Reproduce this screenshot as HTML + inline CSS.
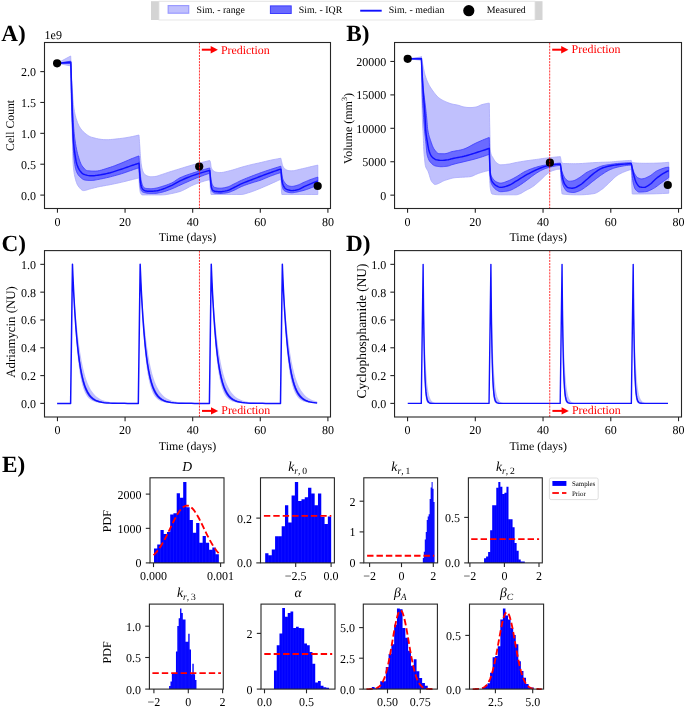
<!DOCTYPE html>
<html><head><meta charset="utf-8"><style>
html,body{margin:0;padding:0;background:#fff;}
body{width:685px;height:707px;overflow:hidden;}
svg{display:block;filter:blur(0.3px);}
text{font-family:"Liberation Serif", serif;}
</style></head><body>
<svg width="685" height="707" viewBox="0 0 685 707" font-family='"Liberation Serif", serif' text-rendering="geometricPrecision">
<rect width="685" height="707" fill="#ffffff"/>
<rect x="151" y="1.2" width="391.5" height="18.8" fill="#d4d4d4"/>
<rect x="159" y="1.2" width="376" height="18.8" fill="#ffffff" stroke="#e0e0e0" stroke-width="0.8"/>
<rect x="168.2" y="5.6" width="20.5" height="7.6" fill="#c0c0fd" stroke="#9a9aff" stroke-width="1.2"/>
<rect x="270.4" y="5.9" width="20.8" height="7.6" fill="#6a6aff" stroke="#3c3cff" stroke-width="1"/>
<line x1="360.2" y1="10.7" x2="381.7" y2="10.7" stroke="#1010ff" stroke-width="1.9"/>
<circle cx="468.8" cy="10.7" r="5.6" fill="#000"/>
<text x="196.4" y="13.2" font-size="9.9" text-anchor="start" fill="#000000" >Sim. - range</text>
<text x="298.7" y="13.2" font-size="9.9" text-anchor="start" fill="#000000" >Sim. - IQR</text>
<text x="388.7" y="13.2" font-size="9.9" text-anchor="start" fill="#000000" >Sim. - median</text>
<text x="486.8" y="13.2" font-size="9.9" text-anchor="start" fill="#000000" >Measured</text>
<text transform="translate(1.2,40.9) scale(1,1)" x="0" y="0" font-size="23.2" font-weight="bold" fill="#000">A)</text>
<text transform="translate(346.2,40.9) scale(1,1)" x="0" y="0" font-size="23.2" font-weight="bold" fill="#000">B)</text>
<text transform="translate(1.5,251.4) scale(1,1)" x="0" y="0" font-size="23.2" font-weight="bold" fill="#000">C)</text>
<text transform="translate(345.9,251.4) scale(1,1)" x="0" y="0" font-size="23.2" font-weight="bold" fill="#000">D)</text>
<text transform="translate(2.1,471.6) scale(1,1)" x="0" y="0" font-size="23.2" font-weight="bold" fill="#000">E)</text>
<path d="M57.1,63.3 L70.7,56 L70.7,56 L70.78,57.97 L70.87,59.94 L70.95,61.94 L71.03,63.95 L71.12,65.97 L71.2,68 L71.28,70.12 L71.37,72.34 L71.45,74.58 L71.53,76.74 L71.62,78.75 L71.7,80.5 L71.85,83.22 L72,85.67 L72.15,87.91 L72.3,90 L72.45,92.01 L72.6,94 L72.77,96.26 L72.93,98.54 L73.1,100.74 L73.27,102.78 L73.43,104.56 L73.6,106 L74.03,108.97 L74.47,111.52 L74.9,113.7 L75.33,115.59 L75.77,117.23 L76.2,118.7 L76.83,120.65 L77.47,122.4 L78.1,123.96 L78.73,125.34 L79.37,126.55 L80,127.6 L80.85,128.84 L81.7,129.94 L82.55,130.92 L83.4,131.8 L84.25,132.59 L85.1,133.3 L86.17,134.14 L87.23,134.93 L88.3,135.66 L89.37,136.29 L90.43,136.81 L91.5,137.2 L93.92,137.87 L96.33,138.47 L98.75,138.98 L101.17,139.36 L103.58,139.61 L106,139.7 L108.25,139.65 L110.5,139.52 L112.75,139.34 L115,139.11 L117.25,138.85 L119.5,138.6 L122.7,138.2 L125.9,137.72 L129.1,137.17 L132.3,136.54 L135.5,135.85 L138.7,135.1 L139,135.1 L139.12,136.71 L139.23,138.34 L139.35,139.98 L139.47,141.64 L139.58,143.31 L139.7,145 L139.83,147.03 L139.97,149.16 L140.1,151.32 L140.23,153.41 L140.37,155.33 L140.5,157 L140.67,158.86 L140.83,160.64 L141,162.28 L141.17,163.75 L141.33,165.01 L141.5,166 L141.83,167.59 L142.17,168.97 L142.5,170.16 L142.83,171.15 L143.17,171.96 L143.5,172.6 L143.92,173.25 L144.33,173.82 L144.75,174.31 L145.17,174.72 L145.58,175.05 L146,175.3 L146.77,175.67 L147.53,176.01 L148.3,176.29 L149.07,176.51 L149.83,176.65 L150.6,176.7 L151.33,176.69 L152.07,176.67 L152.8,176.64 L153.53,176.6 L154.27,176.55 L155,176.5 L156.03,176.36 L157.07,176.11 L158.1,175.78 L159.13,175.41 L160.17,175.04 L161.2,174.7 L162.67,174.24 L164.13,173.76 L165.6,173.26 L167.07,172.77 L168.53,172.28 L170,171.8 L171.67,171.27 L173.33,170.75 L175,170.23 L176.67,169.72 L178.33,169.21 L180,168.7 L182.35,167.98 L184.7,167.26 L187.05,166.55 L189.4,165.84 L191.75,165.16 L194.1,164.5 L196.67,163.8 L199.23,163.13 L201.8,162.47 L204.37,161.82 L206.93,161.2 L209.5,160.6 L209.8,160.6 L209.92,160.69 L210.03,160.9 L210.15,161.21 L210.27,161.6 L210.38,162.03 L210.5,162.5 L210.6,163.07 L210.7,163.87 L210.8,164.8 L210.9,165.71 L211,166.49 L211.1,167 L211.33,167.72 L211.57,168.3 L211.8,168.77 L212.03,169.15 L212.27,169.49 L212.5,169.8 L212.73,170.1 L212.97,170.38 L213.2,170.64 L213.43,170.86 L213.67,171.05 L213.9,171.2 L214.42,171.47 L214.93,171.71 L215.45,171.91 L215.97,172.07 L216.48,172.2 L217,172.3 L217.5,172.38 L218,172.45 L218.5,172.51 L219,172.56 L219.5,172.59 L220,172.6 L221.77,172.5 L223.53,172.24 L225.3,171.87 L227.07,171.42 L228.83,170.95 L230.6,170.5 L232.37,170.04 L234.13,169.52 L235.9,168.96 L237.67,168.38 L239.43,167.82 L241.2,167.3 L242.97,166.81 L244.73,166.32 L246.5,165.84 L248.27,165.38 L250.03,164.93 L251.8,164.5 L253.17,164.18 L254.53,163.88 L255.9,163.59 L257.27,163.3 L258.63,163 L260,162.7 L261.77,162.29 L263.53,161.86 L265.3,161.43 L267.07,161 L268.83,160.59 L270.6,160.2 L272.27,159.85 L273.93,159.52 L275.6,159.2 L277.27,158.89 L278.93,158.59 L280.6,158.3 L280.9,158.3 L281.02,158.86 L281.13,159.41 L281.25,159.95 L281.37,160.48 L281.48,160.99 L281.6,161.5 L281.77,162.24 L281.93,163 L282.1,163.74 L282.27,164.44 L282.43,165.03 L282.6,165.5 L282.95,166.27 L283.3,166.93 L283.65,167.5 L284,167.99 L284.35,168.38 L284.7,168.7 L285.3,169.15 L285.9,169.55 L286.5,169.89 L287.1,170.17 L287.7,170.37 L288.3,170.5 L288.88,170.58 L289.47,170.65 L290.05,170.71 L290.63,170.76 L291.22,170.79 L291.8,170.8 L293.27,170.72 L294.73,170.5 L296.2,170.18 L297.67,169.82 L299.13,169.44 L300.6,169.1 L302.37,168.71 L304.13,168.3 L305.9,167.88 L307.67,167.44 L309.43,167.02 L311.2,166.6 L312.3,166.35 L313.4,166.09 L314.5,165.84 L315.6,165.59 L316.7,165.35 L317.8,165.1 L317.8,194.5 L311.82,194.5 L305.83,194.5 L299.85,194.5 L293.87,194.5 L287.88,194.5 L281.9,194.5 L281.82,194.31 L281.73,193.8 L281.65,193.04 L281.57,192.11 L281.48,191.07 L281.4,190 L281.32,188.79 L281.23,187.31 L281.15,185.58 L281.07,183.65 L280.98,181.54 L280.9,179.3 L280.6,179.3 L278.93,180.08 L277.27,180.86 L275.6,181.63 L273.93,182.4 L272.27,183.15 L270.6,183.9 L268.83,184.69 L267.07,185.48 L265.3,186.26 L263.53,187.03 L261.77,187.78 L260,188.5 L258.05,189.28 L256.1,190.06 L254.15,190.82 L252.2,191.54 L250.25,192.2 L248.3,192.8 L247.12,193.16 L245.93,193.54 L244.75,193.9 L243.57,194.21 L242.38,194.42 L241.2,194.5 L236.18,194.5 L231.17,194.5 L226.15,194.5 L221.13,194.5 L216.12,194.5 L211.1,194.5 L210.97,194.23 L210.83,193.48 L210.7,192.37 L210.57,191.01 L210.43,189.52 L210.3,188 L210.22,186.97 L210.13,185.75 L210.05,184.39 L209.97,182.91 L209.88,181.33 L209.8,179.7 L209.5,179.7 L206.93,180.33 L204.37,181.05 L201.8,181.85 L199.23,182.71 L196.67,183.63 L194.1,184.6 L191.75,185.64 L189.4,186.87 L187.05,188.17 L184.7,189.45 L182.35,190.6 L180,191.5 L178.63,191.91 L177.27,192.28 L175.9,192.62 L174.53,192.93 L173.17,193.22 L171.8,193.5 L170.67,193.74 L169.53,193.98 L168.4,194.21 L167.27,194.41 L166.13,194.58 L165,194.7 L164.37,194.75 L163.73,194.8 L163.1,194.84 L162.47,194.87 L161.83,194.89 L161.2,194.9 L158.02,194.9 L154.83,194.9 L151.65,194.9 L148.47,194.9 L145.28,194.9 L142.1,194.9 L141.83,194.84 L141.57,194.65 L141.3,194.37 L141.03,193.99 L140.77,193.53 L140.5,193 L140.35,192.59 L140.2,192 L140.05,191.23 L139.9,190.3 L139.75,189.22 L139.6,188 L139.5,186.96 L139.4,185.6 L139.3,183.97 L139.2,182.14 L139.1,180.16 L139,178.1 L138.7,178.1 L137.68,178.33 L136.67,178.56 L135.65,178.79 L134.63,179.02 L133.62,179.26 L132.6,179.5 L130.72,179.96 L128.83,180.43 L126.95,180.91 L125.07,181.39 L123.18,181.86 L121.3,182.3 L119.08,182.8 L116.87,183.29 L114.65,183.76 L112.43,184.22 L110.22,184.67 L108,185.1 L106.52,185.37 L105.03,185.63 L103.55,185.88 L102.07,186.14 L100.58,186.41 L99.1,186.7 L97.55,187.04 L96,187.41 L94.45,187.8 L92.9,188.2 L91.35,188.6 L89.8,189 L88.77,189.3 L87.73,189.65 L86.7,190 L85.67,190.3 L84.63,190.52 L83.6,190.6 L82.68,190.43 L81.77,189.94 L80.85,189.19 L79.93,188.23 L79.02,187.12 L78.1,185.9 L77.58,185.08 L77.07,184.02 L76.55,182.73 L76.03,181.2 L75.52,179.42 L75,177.4 L74.68,176.03 L74.37,174.47 L74.05,172.56 L73.73,170.16 L73.42,167.12 L73.1,163.3 L72.97,160.64 L72.83,156.56 L72.7,151.51 L72.57,145.93 L72.43,140.27 L72.3,135 L72.15,129.46 L72,123.89 L71.85,118.22 L71.7,112.4 L71.55,106.35 L71.4,100 L71.28,94.81 L71.17,89.4 L71.05,83.79 L70.93,77.99 L70.82,72.02 L70.7,65.9 L70.7,65.9 L57.1,63.3 Z" fill="#c0c0fd" stroke="#a8a8fb" stroke-width="0.8"/>
<path d="M57.1,63.3 L70.8,61.2 L70.8,61.2 L70.92,64.41 L71.03,67.59 L71.15,70.75 L71.27,73.87 L71.38,76.95 L71.5,80 L71.67,84.34 L71.83,88.68 L72,92.97 L72.17,97.15 L72.33,101.18 L72.5,105 L72.67,108.74 L72.83,112.47 L73,116.07 L73.17,119.44 L73.33,122.45 L73.5,125 L73.75,128.24 L74,131.15 L74.25,133.75 L74.5,136.08 L74.75,138.15 L75,140 L75.52,143.41 L76.03,146.45 L76.55,149.16 L77.07,151.56 L77.58,153.7 L78.1,155.6 L78.75,157.79 L79.4,159.82 L80.05,161.66 L80.7,163.28 L81.35,164.64 L82,165.7 L82.92,166.94 L83.83,168.08 L84.75,169.08 L85.67,169.88 L86.58,170.44 L87.5,170.7 L88.78,170.82 L90.07,170.92 L91.35,171 L92.63,171.06 L93.92,171.09 L95.2,171.1 L97.33,170.96 L99.47,170.57 L101.6,170.02 L103.73,169.36 L105.87,168.66 L108,168 L110.22,167.31 L112.43,166.54 L114.65,165.72 L116.87,164.86 L119.08,163.98 L121.3,163.1 L123.18,162.33 L125.07,161.53 L126.95,160.7 L128.83,159.88 L130.72,159.07 L132.6,158.3 L133.62,157.9 L134.63,157.51 L135.65,157.12 L136.67,156.74 L137.68,156.37 L138.7,156 L139,156 L139.1,157.59 L139.2,159.15 L139.3,160.68 L139.4,162.16 L139.5,163.61 L139.6,165 L139.73,166.85 L139.87,168.71 L140,170.51 L140.13,172.2 L140.27,173.72 L140.4,175 L140.58,176.51 L140.77,177.9 L140.95,179.16 L141.13,180.27 L141.32,181.22 L141.5,182 L141.83,183.22 L142.17,184.32 L142.5,185.28 L142.83,186.08 L143.17,186.69 L143.5,187.1 L143.92,187.45 L144.33,187.74 L144.75,187.99 L145.17,188.18 L145.58,188.32 L146,188.4 L146.77,188.49 L147.53,188.56 L148.3,188.62 L149.07,188.66 L149.83,188.69 L150.6,188.7 L151.33,188.68 L152.07,188.64 L152.8,188.57 L153.53,188.49 L154.27,188.4 L155,188.3 L156.03,188.13 L157.07,187.9 L158.1,187.63 L159.13,187.33 L160.17,187.01 L161.2,186.7 L162.97,186.17 L164.73,185.61 L166.5,185.02 L168.27,184.38 L170.03,183.67 L171.8,182.9 L173.17,182.18 L174.53,181.31 L175.9,180.36 L177.27,179.42 L178.63,178.54 L180,177.8 L182.35,176.75 L184.7,175.81 L187.05,174.95 L189.4,174.14 L191.75,173.37 L194.1,172.6 L196.67,171.76 L199.23,170.95 L201.8,170.17 L204.37,169.41 L206.93,168.69 L209.5,168 L209.8,168 L209.92,169.28 L210.03,170.53 L210.15,171.72 L210.27,172.87 L210.38,173.97 L210.5,175 L210.63,176.15 L210.77,177.29 L210.9,178.39 L211.03,179.39 L211.17,180.28 L211.3,181 L211.5,181.9 L211.7,182.72 L211.9,183.44 L212.1,184.07 L212.3,184.59 L212.5,185 L212.83,185.57 L213.17,186.08 L213.5,186.51 L213.83,186.87 L214.17,187.14 L214.5,187.3 L215.42,187.57 L216.33,187.8 L217.25,187.97 L218.17,188.1 L219.08,188.17 L220,188.2 L221.18,188.16 L222.37,188.04 L223.55,187.86 L224.73,187.63 L225.92,187.37 L227.1,187.1 L228.27,186.75 L229.43,186.28 L230.6,185.71 L231.77,185.1 L232.93,184.48 L234.1,183.9 L235.28,183.32 L236.47,182.73 L237.65,182.13 L238.83,181.53 L240.02,180.95 L241.2,180.4 L242.97,179.63 L244.73,178.89 L246.5,178.17 L248.27,177.48 L250.03,176.79 L251.8,176.1 L253.17,175.57 L254.53,175.04 L255.9,174.52 L257.27,174 L258.63,173.5 L260,173 L261.77,172.37 L263.53,171.76 L265.3,171.15 L267.07,170.56 L268.83,169.98 L270.6,169.4 L272.27,168.86 L273.93,168.34 L275.6,167.81 L277.27,167.3 L278.93,166.8 L280.6,166.3 L280.9,166.3 L281.02,167.33 L281.13,168.33 L281.25,169.3 L281.37,170.24 L281.48,171.14 L281.6,172 L281.77,173.22 L281.93,174.45 L282.1,175.64 L282.27,176.72 L282.43,177.62 L282.6,178.3 L282.95,179.34 L283.3,180.2 L283.65,180.91 L284,181.52 L284.35,182.04 L284.7,182.5 L285.3,183.24 L285.9,183.92 L286.5,184.53 L287.1,185.04 L287.7,185.43 L288.3,185.7 L288.88,185.88 L289.47,186.05 L290.05,186.19 L290.63,186.3 L291.22,186.37 L291.8,186.4 L292.68,186.35 L293.57,186.22 L294.45,186.03 L295.33,185.8 L296.22,185.55 L297.1,185.3 L298.27,184.91 L299.43,184.43 L300.6,183.88 L301.77,183.3 L302.93,182.73 L304.1,182.2 L305.28,181.7 L306.47,181.19 L307.65,180.7 L308.83,180.21 L310.02,179.75 L311.2,179.3 L312.3,178.9 L313.4,178.52 L314.5,178.14 L315.6,177.78 L316.7,177.43 L317.8,177.1 L317.8,185.2 L316.7,185.65 L315.6,186.1 L314.5,186.53 L313.4,186.96 L312.3,187.39 L311.2,187.8 L310.02,188.24 L308.83,188.69 L307.65,189.13 L306.47,189.55 L305.28,189.94 L304.1,190.3 L302.93,190.63 L301.77,190.94 L300.6,191.24 L299.43,191.52 L298.27,191.77 L297.1,192 L296.22,192.17 L295.33,192.35 L294.45,192.52 L293.57,192.66 L292.68,192.76 L291.8,192.8 L290.85,192.76 L289.9,192.65 L288.95,192.48 L288,192.26 L287.05,192 L286.1,191.7 L285.63,191.52 L285.17,191.3 L284.7,191 L284.23,190.63 L283.77,190.17 L283.3,189.6 L283.13,189.32 L282.97,188.92 L282.8,188.42 L282.63,187.85 L282.47,187.2 L282.3,186.5 L282.17,185.86 L282.03,185.12 L281.9,184.25 L281.77,183.28 L281.63,182.2 L281.5,181 L281.4,179.96 L281.3,178.75 L281.2,177.38 L281.1,175.88 L281,174.28 L280.9,172.6 L280.6,172.6 L278.93,173.15 L277.27,173.71 L275.6,174.28 L273.93,174.88 L272.27,175.48 L270.6,176.1 L268.83,176.79 L267.07,177.53 L265.3,178.29 L263.53,179.04 L261.77,179.75 L260,180.4 L258.63,180.85 L257.27,181.27 L255.9,181.67 L254.53,182.06 L253.17,182.47 L251.8,182.9 L250.03,183.48 L248.27,184.07 L246.5,184.67 L244.73,185.31 L242.97,185.98 L241.2,186.7 L240.02,187.25 L238.83,187.86 L237.65,188.51 L236.47,189.15 L235.28,189.76 L234.1,190.3 L232.93,190.8 L231.77,191.3 L230.6,191.78 L229.43,192.21 L228.27,192.56 L227.1,192.8 L225.92,192.98 L224.73,193.14 L223.55,193.29 L222.37,193.4 L221.18,193.47 L220,193.5 L219.17,193.49 L218.33,193.47 L217.5,193.42 L216.67,193.36 L215.83,193.29 L215,193.2 L214.58,193.13 L214.17,193.01 L213.75,192.84 L213.33,192.62 L212.92,192.34 L212.5,192 L212.28,191.74 L212.07,191.33 L211.85,190.79 L211.63,190.13 L211.42,189.37 L211.2,188.5 L211.07,187.82 L210.93,186.94 L210.8,185.88 L210.67,184.69 L210.53,183.38 L210.4,182 L210.3,180.86 L210.2,179.57 L210.1,178.15 L210,176.62 L209.9,174.99 L209.8,173.3 L209.5,173.3 L206.93,174.17 L204.37,175.08 L201.8,176.02 L199.23,176.98 L196.67,177.98 L194.1,179 L191.75,179.97 L189.4,180.98 L187.05,182.02 L184.7,183.08 L182.35,184.14 L180,185.2 L178.63,185.82 L177.27,186.47 L175.9,187.11 L174.53,187.75 L173.17,188.35 L171.8,188.9 L170.03,189.58 L168.27,190.25 L166.5,190.88 L164.73,191.46 L162.97,191.98 L161.2,192.4 L160.17,192.62 L159.13,192.83 L158.1,193.03 L157.07,193.2 L156.03,193.33 L155,193.4 L154.27,193.43 L153.53,193.45 L152.8,193.47 L152.07,193.49 L151.33,193.5 L150.6,193.5 L149.42,193.47 L148.23,193.37 L147.05,193.2 L145.87,192.99 L144.68,192.72 L143.5,192.4 L143.22,192.3 L142.93,192.18 L142.65,192.01 L142.37,191.82 L142.08,191.58 L141.8,191.3 L141.58,191.02 L141.37,190.63 L141.15,190.14 L140.93,189.54 L140.72,188.83 L140.5,188 L140.35,187.25 L140.2,186.23 L140.05,184.97 L139.9,183.49 L139.75,181.83 L139.6,180 L139.5,178.57 L139.4,176.83 L139.3,174.85 L139.2,172.67 L139.1,170.33 L139,167.9 L138.7,167.9 L137.68,168.23 L136.67,168.56 L135.65,168.89 L134.63,169.22 L133.62,169.56 L132.6,169.9 L130.72,170.55 L128.83,171.22 L126.95,171.89 L125.07,172.56 L123.18,173.2 L121.3,173.8 L119.08,174.46 L116.87,175.1 L114.65,175.71 L112.43,176.3 L110.22,176.86 L108,177.4 L106.52,177.75 L105.03,178.09 L103.55,178.42 L102.07,178.73 L100.58,179.02 L99.1,179.3 L97.8,179.55 L96.5,179.82 L95.2,180.07 L93.9,180.29 L92.6,180.44 L91.3,180.5 L90.27,180.49 L89.23,180.45 L88.2,180.39 L87.17,180.31 L86.13,180.22 L85.1,180.1 L84.2,179.89 L83.3,179.49 L82.4,178.93 L81.5,178.24 L80.6,177.45 L79.7,176.6 L79.05,175.92 L78.4,175.1 L77.75,174.11 L77.1,172.9 L76.45,171.41 L75.8,169.6 L75.47,168.35 L75.13,166.65 L74.8,164.5 L74.47,161.94 L74.13,158.96 L73.8,155.6 L73.62,153.27 L73.43,150.28 L73.25,146.8 L73.07,142.99 L72.88,139 L72.7,135 L72.57,132.07 L72.43,129.01 L72.3,125.8 L72.17,122.41 L72.03,118.82 L71.9,115 L71.78,111.53 L71.67,107.93 L71.55,104.08 L71.43,99.89 L71.32,95.23 L71.2,90 L71.13,86.55 L71.07,82.61 L71,78.27 L70.93,73.6 L70.87,68.68 L70.8,63.6 L70.8,63.6 L57.1,63.3 Z" fill="#6a6aff" stroke="#3a3aff" stroke-width="0.8"/>
<path d="M57.1,63.3 L70.8,62.2 L70.8,62.2 L70.87,64.22 L70.93,66.29 L71,68.4 L71.07,70.56 L71.13,72.76 L71.2,75 L71.28,77.92 L71.37,80.99 L71.45,84.11 L71.53,87.24 L71.62,90.29 L71.7,93.2 L71.8,96.53 L71.9,99.77 L72,102.92 L72.1,106.01 L72.2,109.03 L72.3,112 L72.42,115.46 L72.53,118.91 L72.65,122.29 L72.77,125.55 L72.88,128.6 L73,131.4 L73.1,133.66 L73.2,135.87 L73.3,137.97 L73.4,139.9 L73.5,141.6 L73.6,143 L73.77,144.91 L73.93,146.56 L74.1,148.01 L74.27,149.31 L74.43,150.52 L74.6,151.7 L74.93,154.05 L75.27,156.31 L75.6,158.43 L75.93,160.34 L76.27,161.99 L76.6,163.3 L77.12,164.94 L77.63,166.38 L78.15,167.63 L78.67,168.7 L79.18,169.62 L79.7,170.4 L80.35,171.27 L81,172.08 L81.65,172.8 L82.3,173.4 L82.95,173.88 L83.6,174.2 L84.88,174.65 L86.17,175.04 L87.45,175.35 L88.73,175.6 L90.02,175.75 L91.3,175.8 L92.6,175.76 L93.9,175.67 L95.2,175.53 L96.5,175.36 L97.8,175.18 L99.1,175 L100.58,174.79 L102.07,174.54 L103.55,174.26 L105.03,173.96 L106.52,173.64 L108,173.3 L110.22,172.74 L112.43,172.1 L114.65,171.41 L116.87,170.68 L119.08,169.93 L121.3,169.2 L123.18,168.57 L125.07,167.92 L126.95,167.26 L128.83,166.6 L130.72,165.94 L132.6,165.3 L133.62,164.96 L134.63,164.62 L135.65,164.29 L136.67,163.96 L137.68,163.63 L138.7,163.3 L139,163.3 L139.1,164.87 L139.2,166.4 L139.3,167.88 L139.4,169.31 L139.5,170.69 L139.6,172 L139.72,173.48 L139.83,174.93 L139.95,176.32 L140.07,177.65 L140.18,178.88 L140.3,180 L140.42,181.06 L140.53,182.11 L140.65,183.09 L140.77,183.97 L140.88,184.72 L141,185.3 L141.17,185.93 L141.33,186.48 L141.5,186.94 L141.67,187.34 L141.83,187.69 L142,188 L142.25,188.42 L142.5,188.81 L142.75,189.15 L143,189.45 L143.25,189.7 L143.5,189.9 L143.92,190.17 L144.33,190.41 L144.75,190.62 L145.17,190.8 L145.58,190.92 L146,191 L146.77,191.09 L147.53,191.16 L148.3,191.22 L149.07,191.26 L149.83,191.29 L150.6,191.3 L151.33,191.29 L152.07,191.26 L152.8,191.21 L153.53,191.14 L154.27,191.07 L155,191 L156.03,190.86 L157.07,190.67 L158.1,190.44 L159.13,190.18 L160.17,189.89 L161.2,189.6 L162.97,189.05 L164.73,188.41 L166.5,187.69 L168.27,186.92 L170.03,186.12 L171.8,185.3 L173.17,184.62 L174.53,183.88 L175.9,183.11 L177.27,182.33 L178.63,181.58 L180,180.9 L182.35,179.81 L184.7,178.77 L187.05,177.78 L189.4,176.84 L191.75,175.94 L194.1,175.1 L196.67,174.23 L199.23,173.39 L201.8,172.59 L204.37,171.84 L206.93,171.14 L209.5,170.5 L209.8,170.5 L209.9,171.82 L210,173.11 L210.1,174.38 L210.2,175.62 L210.3,176.82 L210.4,178 L210.5,179.19 L210.6,180.41 L210.7,181.6 L210.8,182.71 L210.9,183.7 L211,184.5 L211.13,185.4 L211.27,186.22 L211.4,186.96 L211.53,187.59 L211.67,188.11 L211.8,188.5 L212,188.95 L212.2,189.33 L212.4,189.65 L212.6,189.92 L212.8,190.13 L213,190.3 L213.42,190.58 L213.83,190.83 L214.25,191.04 L214.67,191.2 L215.08,191.32 L215.5,191.4 L216.25,191.49 L217,191.56 L217.75,191.62 L218.5,191.66 L219.25,191.69 L220,191.7 L221.18,191.66 L222.37,191.54 L223.55,191.35 L224.73,191.13 L225.92,190.87 L227.1,190.6 L228.27,190.26 L229.43,189.8 L230.6,189.26 L231.77,188.67 L232.93,188.08 L234.1,187.5 L235.28,186.92 L236.47,186.31 L237.65,185.68 L238.83,185.06 L240.02,184.46 L241.2,183.9 L242.97,183.14 L244.73,182.42 L246.5,181.73 L248.27,181.05 L250.03,180.38 L251.8,179.7 L253.17,179.16 L254.53,178.62 L255.9,178.09 L257.27,177.55 L258.63,177.02 L260,176.5 L261.77,175.83 L263.53,175.17 L265.3,174.52 L267.07,173.88 L268.83,173.24 L270.6,172.6 L272.27,172 L273.93,171.41 L275.6,170.83 L277.27,170.25 L278.93,169.67 L280.6,169.1 L280.9,169.1 L280.98,170.17 L281.07,171.21 L281.15,172.21 L281.23,173.18 L281.32,174.11 L281.4,175 L281.48,175.88 L281.57,176.77 L281.65,177.63 L281.73,178.43 L281.82,179.13 L281.9,179.7 L282.13,181.01 L282.37,182.16 L282.6,183.15 L282.83,184 L283.07,184.71 L283.3,185.3 L283.65,186.05 L284,186.72 L284.35,187.3 L284.7,187.79 L285.05,188.19 L285.4,188.5 L285.88,188.84 L286.37,189.13 L286.85,189.37 L287.33,189.58 L287.82,189.75 L288.3,189.9 L288.88,190.07 L289.47,190.23 L290.05,190.38 L290.63,190.49 L291.22,190.57 L291.8,190.6 L292.68,190.57 L293.57,190.5 L294.45,190.38 L295.33,190.24 L296.22,190.07 L297.1,189.9 L298.27,189.57 L299.43,189.09 L300.6,188.52 L301.77,187.89 L302.93,187.27 L304.1,186.7 L305.28,186.17 L306.47,185.64 L307.65,185.12 L308.83,184.6 L310.02,184.1 L311.2,183.6 L312.3,183.15 L313.4,182.7 L314.5,182.27 L315.6,181.84 L316.7,181.41 L317.8,181" fill="none" stroke="#1010ff" stroke-width="1.45" stroke-linejoin="round"/>
<circle cx="57.1" cy="63.3" r="4.1" fill="#000"/>
<circle cx="199.2" cy="166.6" r="4.1" fill="#000"/>
<circle cx="317.7" cy="186.0" r="4.1" fill="#000"/>
<path d="M407.7,58.8 L421.3,57 L421.3,56.4 L421.42,56.97 L421.53,57.55 L421.65,58.14 L421.77,58.75 L421.88,59.37 L422,60 L422.13,60.76 L422.27,61.55 L422.4,62.36 L422.53,63.17 L422.67,63.96 L422.8,64.7 L423,65.75 L423.2,66.76 L423.4,67.74 L423.6,68.68 L423.8,69.6 L424,70.5 L424.22,71.46 L424.43,72.42 L424.65,73.35 L424.87,74.23 L425.08,75.06 L425.3,75.8 L425.87,77.54 L426.43,79.13 L427,80.59 L427.57,81.92 L428.13,83.15 L428.7,84.3 L429.42,85.64 L430.13,86.88 L430.85,88.03 L431.57,89.1 L432.28,90.12 L433,91.1 L433.98,92.42 L434.97,93.71 L435.95,94.93 L436.93,96.06 L437.92,97.06 L438.9,97.9 L440.03,98.71 L441.17,99.43 L442.3,100.07 L443.43,100.65 L444.57,101.19 L445.7,101.7 L446.75,102.15 L447.8,102.59 L448.85,102.99 L449.9,103.37 L450.95,103.71 L452,104 L453,104.23 L454,104.43 L455,104.61 L456,104.79 L457,104.98 L458,105.2 L459,105.48 L460,105.81 L461,106.17 L462,106.51 L463,106.8 L464,107 L465,107.15 L466,107.29 L467,107.41 L468,107.51 L469,107.58 L470,107.6 L471,107.58 L472,107.52 L473,107.42 L474,107.3 L475,107.16 L476,107 L477,106.75 L478,106.36 L479,105.89 L480,105.39 L481,104.95 L482,104.6 L483.13,104.3 L484.27,104.01 L485.4,103.75 L486.53,103.53 L487.67,103.34 L488.8,103.2 L489.3,103.2 L489.38,108.27 L489.47,113.15 L489.55,117.79 L489.63,122.17 L489.72,126.25 L489.8,130 L489.9,134.46 L490,139.04 L490.1,143.37 L490.2,147.08 L490.3,149.81 L490.4,151.2 L490.8,153.2 L491.2,154.6 L491.6,155.56 L492,156.26 L492.4,156.85 L492.8,157.5 L493.45,158.67 L494.1,159.77 L494.75,160.75 L495.4,161.62 L496.05,162.34 L496.7,162.9 L497.35,163.37 L498,163.81 L498.65,164.2 L499.3,164.52 L499.95,164.72 L500.6,164.8 L501.88,164.77 L503.17,164.69 L504.45,164.57 L505.73,164.43 L507.02,164.26 L508.3,164.1 L509.6,163.9 L510.9,163.65 L512.2,163.36 L513.5,163.06 L514.8,162.76 L516.1,162.5 L517.58,162.23 L519.07,161.97 L520.55,161.71 L522.03,161.47 L523.52,161.23 L525,161 L526.95,160.71 L528.9,160.44 L530.85,160.18 L532.8,159.92 L534.75,159.66 L536.7,159.4 L538.63,159.13 L540.57,158.84 L542.5,158.56 L544.43,158.29 L546.37,158.03 L548.3,157.8 L550.27,157.59 L552.23,157.38 L554.2,157.19 L556.17,157.01 L558.13,156.85 L560.1,156.7 L560.4,156.7 L560.5,157.26 L560.6,157.82 L560.7,158.37 L560.8,158.92 L560.9,159.46 L561,160 L561.07,160.39 L561.13,160.82 L561.2,161.25 L561.27,161.64 L561.33,161.93 L561.4,162.1 L561.8,162.56 L562.2,162.92 L562.6,163.18 L563,163.35 L563.4,163.46 L563.8,163.5 L565.75,163.57 L567.7,163.62 L569.65,163.66 L571.6,163.68 L573.55,163.7 L575.5,163.7 L578.92,163.63 L582.33,163.46 L585.75,163.21 L589.17,162.95 L592.58,162.69 L596,162.5 L598.27,162.41 L600.53,162.33 L602.8,162.26 L605.07,162.19 L607.33,162.11 L609.6,162 L611.53,161.88 L613.47,161.71 L615.4,161.53 L617.33,161.34 L619.27,161.16 L621.2,161 L622.83,160.89 L624.47,160.78 L626.1,160.67 L627.73,160.58 L629.37,160.48 L631,160.4 L631.3,160.4 L631.38,160.69 L631.47,160.97 L631.55,161.24 L631.63,161.47 L631.72,161.66 L631.8,161.8 L632.02,162.05 L632.23,162.26 L632.45,162.43 L632.67,162.56 L632.88,162.65 L633.1,162.7 L635.18,162.91 L637.27,163.07 L639.35,163.18 L641.43,163.25 L643.52,163.29 L645.6,163.3 L649.46,163.28 L653.32,163.22 L657.17,163.1 L661.03,162.91 L664.89,162.65 L668.75,162.3 L668.75,193.2 L662.67,193.54 L656.6,193.76 L650.52,193.9 L644.45,193.97 L638.38,194 L632.3,194 L632.22,193.6 L632.13,192.51 L632.05,190.92 L631.97,189.02 L631.88,186.98 L631.8,185 L631.72,182.97 L631.63,180.68 L631.55,178.17 L631.47,175.45 L631.38,172.55 L631.3,169.5 L631,169.5 L630.02,169.78 L629.03,170.08 L628.05,170.4 L627.07,170.75 L626.08,171.12 L625.1,171.5 L623.8,172.03 L622.5,172.6 L621.2,173.21 L619.9,173.87 L618.6,174.6 L617.3,175.4 L616.02,176.33 L614.73,177.44 L613.45,178.65 L612.17,179.92 L610.88,181.19 L609.6,182.4 L608.3,183.61 L607,184.87 L605.7,186.12 L604.4,187.33 L603.1,188.44 L601.8,189.4 L600.5,190.29 L599.2,191.18 L597.9,192.01 L596.6,192.72 L595.3,193.27 L594,193.6 L591.55,193.95 L589.1,194.25 L586.65,194.48 L584.2,194.66 L581.75,194.76 L579.3,194.8 L576.45,194.79 L573.6,194.76 L570.75,194.68 L567.9,194.54 L565.05,194.32 L562.2,194 L562.07,193.79 L561.93,193.23 L561.8,192.38 L561.67,191.28 L561.53,190.01 L561.4,188.6 L561.33,187.64 L561.27,186.31 L561.2,184.74 L561.13,183.08 L561.07,181.45 L561,180 L560.9,178.04 L560.8,176.13 L560.7,174.28 L560.6,172.48 L560.5,170.76 L560.4,169.1 L560.1,169.1 L558.92,169.15 L557.73,169.31 L556.55,169.54 L555.37,169.82 L554.18,170.15 L553,170.5 L552.22,170.78 L551.43,171.13 L550.65,171.54 L549.87,172 L549.08,172.49 L548.3,173 L547.02,173.95 L545.73,175.06 L544.45,176.29 L543.17,177.56 L541.88,178.82 L540.6,180 L539.3,181.16 L538,182.34 L536.7,183.5 L535.4,184.62 L534.1,185.67 L532.8,186.6 L531.5,187.42 L530.2,188.16 L528.9,188.85 L527.6,189.52 L526.3,190.19 L525,190.9 L524.17,191.4 L523.33,191.94 L522.5,192.49 L521.67,193 L520.83,193.45 L520,193.8 L519.35,194.03 L518.7,194.26 L518.05,194.47 L517.4,194.64 L516.75,194.76 L516.1,194.8 L513.52,194.8 L510.93,194.8 L508.35,194.8 L505.77,194.8 L503.18,194.8 L500.6,194.8 L499.17,194.79 L497.73,194.74 L496.3,194.65 L494.87,194.5 L493.43,194.29 L492,194 L491.73,193.77 L491.47,193.21 L491.2,192.38 L490.93,191.3 L490.67,190.03 L490.4,188.6 L490.3,187.93 L490.2,187.06 L490.1,186.01 L490,184.8 L489.9,183.46 L489.8,182 L489.72,180.61 L489.63,178.96 L489.55,177.09 L489.47,175.03 L489.38,172.82 L489.3,170.5 L488.8,170.5 L487.07,170.9 L485.33,171.33 L483.6,171.8 L481.87,172.31 L480.13,172.84 L478.4,173.4 L477,173.94 L475.6,174.59 L474.2,175.27 L472.8,175.91 L471.4,176.41 L470,176.7 L468.48,176.85 L466.97,176.96 L465.45,177.05 L463.93,177.13 L462.42,177.21 L460.9,177.3 L459.92,177.36 L458.93,177.42 L457.95,177.47 L456.97,177.53 L455.98,177.61 L455,177.7 L454.23,177.8 L453.47,177.94 L452.7,178.11 L451.93,178.3 L451.17,178.5 L450.4,178.7 L449.23,179.01 L448.07,179.35 L446.9,179.72 L445.73,180.12 L444.57,180.54 L443.4,181 L442.62,181.36 L441.83,181.77 L441.05,182.21 L440.27,182.65 L439.48,183.06 L438.7,183.4 L438.12,183.64 L437.53,183.88 L436.95,184.12 L436.37,184.31 L435.78,184.45 L435.2,184.5 L434.62,184.39 L434.03,184.08 L433.45,183.61 L432.87,183.02 L432.28,182.33 L431.7,181.6 L431.12,180.55 L430.53,179.01 L429.95,177.17 L429.37,175.22 L428.78,173.33 L428.2,171.7 L427.72,170.67 L427.23,169.85 L426.75,169.08 L426.27,168.18 L425.78,166.97 L425.3,165.3 L425.2,164.76 L425.1,164 L425,163.08 L424.9,162.06 L424.8,161.01 L424.7,160 L424.57,158.72 L424.43,157.45 L424.3,156.13 L424.17,154.69 L424.03,153.06 L423.9,151.2 L423.78,149.09 L423.67,146.44 L423.55,143.47 L423.43,140.42 L423.32,137.52 L423.2,135 L423.1,133.23 L423,131.69 L422.9,130.24 L422.8,128.74 L422.7,127.04 L422.6,125 L422.48,122.08 L422.37,118.61 L422.25,114.62 L422.13,110.17 L422.02,105.28 L421.9,100 L421.8,94.92 L421.7,89.1 L421.6,82.63 L421.5,75.59 L421.4,68.09 L421.3,60.2 L421.3,60.2 L407.7,58.8 Z" fill="#c0c0fd" stroke="#a8a8fb" stroke-width="0.8"/>
<path d="M407.7,58.8 L421.4,58.2 L421.4,58.4 L421.57,61.37 L421.73,64.26 L421.9,67.08 L422.07,69.81 L422.23,72.45 L422.4,75 L422.58,77.75 L422.77,80.47 L422.95,83.11 L423.13,85.61 L423.32,87.93 L423.5,90 L423.8,92.94 L424.1,95.53 L424.4,97.89 L424.7,100.17 L425,102.49 L425.3,105 L425.53,107.06 L425.77,109.15 L426,111.28 L426.23,113.46 L426.47,115.69 L426.7,118 L426.88,120.02 L427.07,122.26 L427.25,124.55 L427.43,126.72 L427.62,128.6 L427.8,130 L428.27,132.55 L428.73,134.64 L429.2,136.37 L429.67,137.87 L430.13,139.24 L430.6,140.6 L431.18,142.33 L431.77,144 L432.35,145.56 L432.93,146.96 L433.52,148.16 L434.1,149.1 L434.93,150.23 L435.77,151.31 L436.6,152.26 L437.43,153.02 L438.27,153.52 L439.1,153.7 L440.03,153.7 L440.97,153.7 L441.9,153.7 L442.83,153.7 L443.77,153.7 L444.7,153.7 L445.92,153.58 L447.13,153.28 L448.35,152.86 L449.57,152.39 L450.78,151.95 L452,151.6 L453.33,151.32 L454.67,151.08 L456,150.85 L457.33,150.62 L458.67,150.38 L460,150.1 L460.67,149.94 L461.33,149.78 L462,149.61 L462.67,149.42 L463.33,149.22 L464,149 L466,148.21 L468,147.25 L470,146.18 L472,145.07 L474,143.99 L476,143 L478.13,142.03 L480.27,141.09 L482.4,140.18 L484.53,139.29 L486.67,138.43 L488.8,137.6 L489.3,137.6 L489.38,142.17 L489.47,146.5 L489.55,150.53 L489.63,154.17 L489.72,157.35 L489.8,160 L489.9,162.79 L490,165.43 L490.1,167.81 L490.2,169.81 L490.3,171.31 L490.4,172.2 L490.8,174.12 L491.2,175.54 L491.6,176.58 L492,177.35 L492.4,177.95 L492.8,178.5 L493.45,179.35 L494.1,180.09 L494.75,180.72 L495.4,181.25 L496.05,181.67 L496.7,182 L497.35,182.28 L498,182.53 L498.65,182.76 L499.3,182.94 L499.95,183.06 L500.6,183.1 L501.88,183 L503.17,182.72 L504.45,182.31 L505.73,181.82 L507.02,181.3 L508.3,180.8 L509.6,180.27 L510.9,179.67 L512.2,179.02 L513.5,178.33 L514.8,177.62 L516.1,176.9 L517.58,176.04 L519.07,175.1 L520.55,174.13 L522.03,173.18 L523.52,172.29 L525,171.5 L526.3,170.88 L527.6,170.31 L528.9,169.76 L530.2,169.24 L531.5,168.76 L532.8,168.3 L534.1,167.86 L535.4,167.44 L536.7,167.04 L538,166.67 L539.3,166.32 L540.6,166 L541.88,165.71 L543.17,165.43 L544.45,165.17 L545.73,164.93 L547.02,164.7 L548.3,164.5 L550.27,164.21 L552.23,163.94 L554.2,163.69 L556.17,163.46 L558.13,163.26 L560.1,163.1 L560.4,163.1 L560.45,163.81 L560.5,164.53 L560.55,165.23 L560.6,165.87 L560.65,166.4 L560.7,166.8 L560.95,168.21 L561.2,169.31 L561.45,170.19 L561.7,170.91 L561.95,171.55 L562.2,172.2 L562.72,173.55 L563.23,174.82 L563.75,175.98 L564.27,177 L564.78,177.85 L565.3,178.5 L565.95,179.18 L566.6,179.81 L567.25,180.36 L567.9,180.8 L568.55,181.1 L569.2,181.2 L569.85,181.19 L570.5,181.14 L571.15,181.08 L571.8,181 L572.45,180.9 L573.1,180.8 L574.13,180.54 L575.17,180.11 L576.2,179.57 L577.23,178.96 L578.27,178.32 L579.3,177.7 L580.6,176.87 L581.9,175.92 L583.2,174.91 L584.5,173.92 L585.8,172.99 L587.1,172.2 L588.58,171.44 L590.07,170.75 L591.55,170.11 L593.03,169.5 L594.52,168.9 L596,168.3 L596.97,167.89 L597.93,167.46 L598.9,167.04 L599.87,166.64 L600.83,166.29 L601.8,166 L603.1,165.68 L604.4,165.4 L605.7,165.14 L607,164.92 L608.3,164.7 L609.6,164.5 L610.88,164.3 L612.17,164.11 L613.45,163.93 L614.73,163.77 L616.02,163.62 L617.3,163.5 L619.58,163.31 L621.87,163.14 L624.15,162.98 L626.43,162.85 L628.72,162.75 L631,162.7 L631.3,162.7 L631.4,163.3 L631.5,163.91 L631.6,164.5 L631.7,165.06 L631.8,165.56 L631.9,166 L632.37,167.75 L632.83,169.31 L633.3,170.68 L633.77,171.88 L634.23,172.91 L634.7,173.8 L635.22,174.68 L635.73,175.5 L636.25,176.23 L636.77,176.86 L637.28,177.35 L637.8,177.7 L638.45,178.02 L639.1,178.3 L639.75,178.55 L640.4,178.74 L641.05,178.86 L641.7,178.9 L643,178.78 L644.3,178.45 L645.6,177.96 L646.9,177.38 L648.2,176.74 L649.5,176.1 L650.78,175.36 L652.07,174.41 L653.35,173.37 L654.63,172.33 L655.92,171.41 L657.2,170.7 L659.12,169.86 L661.05,169.08 L662.98,168.37 L664.9,167.79 L666.83,167.35 L668.75,167.1 L668.75,177.6 L667.48,178.52 L666.2,179.45 L664.92,180.36 L663.65,181.28 L662.38,182.19 L661.1,183.1 L659.8,184.06 L658.5,185.05 L657.2,186.04 L655.9,186.99 L654.6,187.86 L653.3,188.6 L652.02,189.27 L650.73,189.93 L649.45,190.54 L648.17,191.07 L646.88,191.47 L645.6,191.7 L644.55,191.81 L643.5,191.9 L642.45,191.98 L641.4,192.05 L640.35,192.09 L639.3,192.1 L638.65,192.01 L638,191.74 L637.35,191.33 L636.7,190.79 L636.05,190.14 L635.4,189.4 L635.02,188.82 L634.63,187.98 L634.25,186.91 L633.87,185.62 L633.48,184.11 L633.1,182.4 L632.8,180.66 L632.5,178.32 L632.2,175.5 L631.9,172.29 L631.6,168.79 L631.3,165.1 L631,165.1 L628.72,165.23 L626.43,165.47 L624.15,165.82 L621.87,166.23 L619.58,166.7 L617.3,167.2 L616.02,167.52 L614.73,167.9 L613.45,168.34 L612.17,168.82 L610.88,169.34 L609.6,169.9 L608.3,170.53 L607,171.25 L605.7,172.03 L604.4,172.87 L603.1,173.73 L601.8,174.6 L600.5,175.49 L599.2,176.43 L597.9,177.4 L596.6,178.39 L595.3,179.4 L594,180.4 L592.85,181.31 L591.7,182.25 L590.55,183.2 L589.4,184.14 L588.25,185.05 L587.1,185.9 L585.8,186.85 L584.5,187.81 L583.2,188.74 L581.9,189.6 L580.6,190.33 L579.3,190.9 L578.27,191.28 L577.23,191.65 L576.2,191.98 L575.17,192.25 L574.13,192.43 L573.1,192.5 L572.2,192.48 L571.3,192.4 L570.4,192.29 L569.5,192.13 L568.6,191.93 L567.7,191.7 L567.05,191.4 L566.4,190.88 L565.75,190.15 L565.1,189.25 L564.45,188.19 L563.8,187 L563.4,186.13 L563,185.04 L562.6,183.68 L562.2,182.03 L561.8,180.05 L561.4,177.7 L561.23,176.4 L561.07,174.67 L560.9,172.6 L560.73,170.31 L560.57,167.87 L560.4,165.4 L560.1,165.4 L558.13,165.57 L556.17,165.84 L554.2,166.2 L552.23,166.62 L550.27,167.09 L548.3,167.6 L547.02,167.97 L545.73,168.42 L544.45,168.93 L543.17,169.48 L541.88,170.08 L540.6,170.7 L539.3,171.39 L538,172.17 L536.7,173.01 L535.4,173.89 L534.1,174.79 L532.8,175.7 L531.5,176.64 L530.2,177.63 L528.9,178.64 L527.6,179.66 L526.3,180.66 L525,181.6 L523.52,182.64 L522.03,183.68 L520.55,184.69 L519.07,185.66 L517.58,186.57 L516.1,187.4 L514.8,188.11 L513.5,188.82 L512.2,189.5 L510.9,190.1 L509.6,190.58 L508.3,190.9 L507.02,191.11 L505.73,191.3 L504.45,191.46 L503.17,191.59 L501.88,191.67 L500.6,191.7 L499.95,191.63 L499.3,191.45 L498.65,191.18 L498,190.85 L497.35,190.48 L496.7,190.1 L496.05,189.68 L495.4,189.17 L494.75,188.58 L494.1,187.88 L493.45,187.09 L492.8,186.2 L492.47,185.71 L492.13,185.19 L491.8,184.57 L491.47,183.8 L491.13,182.83 L490.8,181.6 L490.65,180.8 L490.5,179.64 L490.35,178.15 L490.2,176.36 L490.05,174.3 L489.9,172 L489.8,170.09 L489.7,167.66 L489.6,164.78 L489.5,161.57 L489.4,158.11 L489.3,154.5 L488.8,154.5 L486.67,155.27 L484.53,156.02 L482.4,156.74 L480.27,157.42 L478.13,158.08 L476,158.7 L474,159.25 L472,159.76 L470,160.25 L468,160.73 L466,161.21 L464,161.7 L462,162.19 L460,162.65 L458,163.12 L456,163.61 L454,164.13 L452,164.7 L451.38,164.91 L450.77,165.16 L450.15,165.41 L449.53,165.66 L448.92,165.86 L448.3,166 L447.12,166.19 L445.93,166.35 L444.75,166.5 L443.57,166.6 L442.38,166.68 L441.2,166.7 L440.25,166.68 L439.3,166.61 L438.35,166.5 L437.4,166.36 L436.45,166.19 L435.5,166 L434.68,165.75 L433.87,165.34 L433.05,164.8 L432.23,164.14 L431.42,163.37 L430.6,162.5 L430.02,161.8 L429.43,160.95 L428.85,159.89 L428.27,158.54 L427.68,156.83 L427.1,154.7 L426.92,153.64 L426.73,152.07 L426.55,150.16 L426.37,148.07 L426.18,146 L426,144.1 L425.72,141.49 L425.43,138.99 L425.15,136.5 L424.87,133.91 L424.58,131.12 L424.3,128 L424.15,126.14 L424,124.1 L423.85,121.93 L423.7,119.65 L423.55,117.33 L423.4,115 L423.25,112.75 L423.1,110.56 L422.95,108.32 L422.8,105.89 L422.65,103.16 L422.5,100 L422.4,97.45 L422.3,94.44 L422.2,91.07 L422.1,87.46 L422,83.73 L421.9,80 L421.82,76.85 L421.73,73.58 L421.65,70.19 L421.57,66.69 L421.48,63.09 L421.4,59.4 L421.4,59.5 L407.7,58.8 Z" fill="#6a6aff" stroke="#3a3aff" stroke-width="0.8"/>
<path d="M407.7,58.8 L421.4,58.6 L421.4,58.6 L421.48,60.38 L421.57,62.15 L421.65,63.9 L421.73,65.63 L421.82,67.33 L421.9,69 L422.05,72.01 L422.2,75.02 L422.35,77.98 L422.5,80.84 L422.65,83.53 L422.8,86 L423.02,89.2 L423.23,92.09 L423.45,94.8 L423.67,97.45 L423.88,100.14 L424.1,103 L424.25,105.05 L424.4,107.08 L424.55,109.15 L424.7,111.3 L424.85,113.56 L425,116 L425.12,118.22 L425.23,120.78 L425.35,123.47 L425.47,126.05 L425.58,128.3 L425.7,130 L425.93,132.46 L426.17,134.51 L426.4,136.25 L426.63,137.78 L426.87,139.19 L427.1,140.6 L427.45,142.73 L427.8,144.8 L428.15,146.73 L428.5,148.49 L428.85,149.99 L429.2,151.2 L429.67,152.52 L430.13,153.69 L430.6,154.73 L431.07,155.61 L431.53,156.34 L432,156.9 L432.72,157.59 L433.43,158.2 L434.15,158.72 L434.87,159.15 L435.58,159.48 L436.3,159.7 L437.12,159.89 L437.93,160.05 L438.75,160.2 L439.57,160.3 L440.38,160.38 L441.2,160.4 L442.38,160.37 L443.57,160.3 L444.75,160.18 L445.93,160.04 L447.12,159.88 L448.3,159.7 L448.92,159.58 L449.53,159.42 L450.15,159.24 L450.77,159.05 L451.38,158.86 L452,158.7 L454,158.26 L456,157.87 L458,157.51 L460,157.14 L462,156.75 L464,156.3 L466,155.79 L468,155.22 L470,154.61 L472,153.98 L474,153.34 L476,152.7 L478.13,152.03 L480.27,151.34 L482.4,150.65 L484.53,149.94 L486.67,149.23 L488.8,148.5 L489.3,148.5 L489.38,151.78 L489.47,154.9 L489.55,157.82 L489.63,160.51 L489.72,162.91 L489.8,165 L489.9,167.28 L490,169.48 L490.1,171.48 L490.2,173.21 L490.3,174.54 L490.4,175.4 L490.8,177.46 L491.2,179.03 L491.6,180.22 L492,181.11 L492.4,181.81 L492.8,182.4 L493.45,183.26 L494.1,183.98 L494.75,184.59 L495.4,185.1 L496.05,185.53 L496.7,185.9 L497.35,186.25 L498,186.6 L498.65,186.91 L499.3,187.17 L499.95,187.34 L500.6,187.4 L501.88,187.32 L503.17,187.1 L504.45,186.78 L505.73,186.38 L507.02,185.94 L508.3,185.5 L509.6,184.98 L510.9,184.33 L512.2,183.59 L513.5,182.79 L514.8,181.98 L516.1,181.2 L517.58,180.31 L519.07,179.39 L520.55,178.44 L522.03,177.5 L523.52,176.58 L525,175.7 L526.3,174.96 L527.6,174.23 L528.9,173.52 L530.2,172.82 L531.5,172.15 L532.8,171.5 L534.1,170.87 L535.4,170.24 L536.7,169.63 L538,169.05 L539.3,168.5 L540.6,168 L541.88,167.53 L543.17,167.06 L544.45,166.63 L545.73,166.22 L547.02,165.88 L548.3,165.6 L550.27,165.24 L552.23,164.9 L554.2,164.6 L556.17,164.35 L558.13,164.18 L560.1,164.1 L560.4,164.1 L560.48,164.56 L560.57,165.03 L560.65,165.5 L560.73,165.99 L560.82,166.49 L560.9,167 L561.12,168.48 L561.33,170.12 L561.55,171.82 L561.77,173.46 L561.98,174.92 L562.2,176.1 L562.6,177.87 L563,179.48 L563.4,180.9 L563.8,182.13 L564.2,183.13 L564.6,183.9 L565.25,184.89 L565.9,185.78 L566.55,186.54 L567.2,187.14 L567.85,187.57 L568.5,187.8 L569.13,187.91 L569.77,188.01 L570.4,188.09 L571.03,188.15 L571.67,188.19 L572.3,188.2 L573.47,188.08 L574.63,187.77 L575.8,187.3 L576.97,186.74 L578.13,186.12 L579.3,185.5 L580.6,184.72 L581.9,183.75 L583.2,182.66 L584.5,181.5 L585.8,180.33 L587.1,179.2 L588.25,178.2 L589.4,177.16 L590.55,176.11 L591.7,175.08 L592.85,174.1 L594,173.2 L595.3,172.25 L596.6,171.32 L597.9,170.43 L599.2,169.61 L600.5,168.89 L601.8,168.3 L603.1,167.8 L604.4,167.36 L605.7,166.96 L607,166.6 L608.3,166.28 L609.6,166 L610.88,165.75 L612.17,165.52 L613.45,165.31 L614.73,165.12 L616.02,164.95 L617.3,164.8 L619.58,164.56 L621.87,164.33 L624.15,164.12 L626.43,163.94 L628.72,163.8 L631,163.7 L631.3,163.7 L631.35,163.92 L631.4,164.13 L631.45,164.35 L631.5,164.56 L631.55,164.78 L631.6,165 L631.98,166.75 L632.37,168.58 L632.75,170.42 L633.13,172.21 L633.52,173.9 L633.9,175.4 L634.28,176.79 L634.67,178.15 L635.05,179.44 L635.43,180.6 L635.82,181.6 L636.2,182.4 L636.85,183.52 L637.5,184.56 L638.15,185.47 L638.8,186.21 L639.45,186.73 L640.1,187 L640.75,187.11 L641.4,187.21 L642.05,187.29 L642.7,187.35 L643.35,187.39 L644,187.4 L644.92,187.28 L645.83,186.96 L646.75,186.48 L647.67,185.91 L648.58,185.3 L649.5,184.7 L650.78,183.76 L652.07,182.59 L653.35,181.31 L654.63,180 L655.92,178.77 L657.2,177.7 L659.12,176.3 L661.05,174.96 L662.98,173.71 L664.9,172.55 L666.83,171.51 L668.75,170.6" fill="none" stroke="#1010ff" stroke-width="1.45" stroke-linejoin="round"/>
<circle cx="407.7" cy="58.8" r="4.1" fill="#000"/>
<circle cx="549.9" cy="162.7" r="4.1" fill="#000"/>
<circle cx="667.8" cy="185.0" r="4.1" fill="#000"/>
<path d="M72.47,264.35 L72.47,264.54 L72.5,265.17 L72.56,266.29 L72.64,267.9 L72.75,270.02 L72.9,272.63 L73.07,275.71 L73.28,279.24 L73.52,283.18 L73.79,287.5 L74.1,292.16 L74.45,297.1 L74.83,302.27 L75.25,307.63 L75.7,313.12 L76.2,318.68 L76.73,324.27 L77.3,329.84 L77.91,335.34 L78.56,340.73 L79.25,345.97 L79.98,351.02 L80.75,355.86 L81.57,360.46 L82.42,364.81 L83.32,368.88 L84.26,372.68 L85.24,376.2 L86.27,379.44 L87.34,382.39 L88.45,385.08 L89.61,387.5 L90.81,389.67 L92.05,391.61 L93.34,393.32 L94.68,394.83 L96.06,396.15 L97.48,397.3 L98.95,398.29 L100.47,399.15 L102.03,399.88 L103.64,400.5 L105.3,401.02 L107,401.46 L108.75,401.83 L110.55,402.13 L112.4,402.38 L114.29,402.59 L116.23,402.75 L118.22,402.89 L120.26,403 L122.34,403.09 L124.48,403.16 L126.66,403.21 L128.89,403.26 L131.17,403.29 L133.51,403.32 L135.89,403.34 L138.32,403.35 L138.32,403.4 L135.89,403.4 L133.51,403.4 L131.17,403.4 L128.89,403.4 L126.66,403.4 L124.48,403.39 L122.34,403.39 L120.26,403.39 L118.22,403.38 L116.23,403.37 L114.29,403.36 L112.4,403.35 L110.55,403.32 L108.75,403.29 L107,403.25 L105.3,403.19 L103.64,403.12 L102.03,403.01 L100.47,402.88 L98.95,402.7 L97.48,402.47 L96.06,402.17 L94.68,401.79 L93.34,401.31 L92.05,400.72 L90.81,399.98 L89.61,399.07 L88.45,397.97 L87.34,396.64 L86.27,395.06 L85.24,393.18 L84.26,390.99 L83.32,388.44 L82.42,385.51 L81.57,382.18 L80.75,378.43 L79.98,374.24 L79.25,369.61 L78.56,364.55 L77.91,359.07 L77.3,353.2 L76.73,346.98 L76.2,340.47 L75.7,333.73 L75.25,326.83 L74.83,319.86 L74.45,312.91 L74.1,306.09 L73.79,299.5 L73.52,293.23 L73.28,287.39 L73.07,282.07 L72.9,277.35 L72.75,273.31 L72.64,269.99 L72.56,267.44 L72.5,265.66 L72.47,264.65 L72.47,264.35 Z" fill="#c0c0fd"/>
<path d="M140.17,264.35 L140.18,264.55 L140.21,265.21 L140.27,266.38 L140.36,268.08 L140.48,270.29 L140.63,273.02 L140.81,276.25 L141.03,279.93 L141.28,284.05 L141.57,288.54 L141.89,293.38 L142.26,298.5 L142.66,303.86 L143.1,309.38 L143.58,315.03 L144.1,320.74 L144.66,326.46 L145.26,332.13 L145.9,337.71 L146.58,343.16 L147.31,348.43 L148.08,353.5 L148.89,358.32 L149.74,362.89 L150.64,367.18 L151.59,371.19 L152.57,374.9 L153.61,378.32 L154.68,381.44 L155.81,384.27 L156.98,386.83 L158.19,389.12 L159.46,391.16 L160.76,392.96 L162.12,394.55 L163.52,395.94 L164.97,397.14 L166.47,398.18 L168.02,399.07 L169.61,399.82 L171.26,400.46 L172.95,401 L174.69,401.46 L176.48,401.83 L178.32,402.14 L180.21,402.39 L182.15,402.6 L184.14,402.77 L186.18,402.91 L188.27,403.01 L190.42,403.1 L192.61,403.17 L194.85,403.22 L197.15,403.26 L199.5,403.3 L201.89,403.32 L204.34,403.34 L206.85,403.36 L209.4,403.37 L209.4,403.4 L206.85,403.4 L204.34,403.4 L201.89,403.4 L199.5,403.4 L197.15,403.4 L194.85,403.4 L192.61,403.4 L190.42,403.39 L188.27,403.39 L186.18,403.38 L184.14,403.38 L182.15,403.36 L180.21,403.35 L178.32,403.33 L176.48,403.29 L174.69,403.25 L172.95,403.19 L171.26,403.11 L169.61,403 L168.02,402.86 L166.47,402.67 L164.97,402.43 L163.52,402.11 L162.12,401.7 L160.76,401.19 L159.46,400.55 L158.19,399.75 L156.98,398.78 L155.81,397.58 L154.68,396.14 L153.61,394.42 L152.57,392.39 L151.59,390.01 L150.64,387.24 L149.74,384.07 L148.89,380.47 L148.08,376.42 L147.31,371.9 L146.58,366.93 L145.9,361.51 L145.26,355.68 L144.66,349.45 L144.1,342.9 L143.58,336.07 L143.1,329.06 L142.66,321.94 L142.26,314.82 L141.89,307.8 L141.57,300.99 L141.28,294.5 L141.03,288.43 L140.81,282.89 L140.63,277.97 L140.48,273.74 L140.36,270.26 L140.27,267.59 L140.21,265.72 L140.18,264.67 L140.17,264.35 Z" fill="#c0c0fd"/>
<path d="M211.26,264.35 L211.27,264.55 L211.3,265.21 L211.36,266.38 L211.45,268.08 L211.56,270.29 L211.71,273.02 L211.9,276.25 L212.11,279.93 L212.37,284.05 L212.65,288.54 L212.98,293.38 L213.34,298.5 L213.74,303.86 L214.18,309.38 L214.66,315.03 L215.18,320.74 L215.74,326.46 L216.34,332.13 L216.98,337.71 L217.67,343.16 L218.39,348.43 L219.16,353.5 L219.97,358.32 L220.83,362.89 L221.73,367.18 L222.67,371.19 L223.66,374.9 L224.69,378.32 L225.77,381.44 L226.89,384.27 L228.06,386.83 L229.28,389.12 L230.54,391.16 L231.85,392.96 L233.21,394.55 L234.61,395.94 L236.06,397.14 L237.56,398.18 L239.11,399.07 L240.7,399.82 L242.34,400.46 L244.04,401 L245.78,401.46 L247.57,401.83 L249.41,402.14 L251.3,402.39 L253.24,402.6 L255.23,402.77 L257.27,402.91 L259.36,403.01 L261.5,403.1 L263.69,403.17 L265.94,403.22 L268.23,403.26 L270.58,403.3 L272.98,403.32 L275.43,403.34 L277.93,403.36 L280.49,403.37 L280.49,403.4 L277.93,403.4 L275.43,403.4 L272.98,403.4 L270.58,403.4 L268.23,403.4 L265.94,403.4 L263.69,403.4 L261.5,403.39 L259.36,403.39 L257.27,403.38 L255.23,403.38 L253.24,403.36 L251.3,403.35 L249.41,403.33 L247.57,403.29 L245.78,403.25 L244.04,403.19 L242.34,403.11 L240.7,403 L239.11,402.86 L237.56,402.67 L236.06,402.43 L234.61,402.11 L233.21,401.7 L231.85,401.19 L230.54,400.55 L229.28,399.75 L228.06,398.78 L226.89,397.58 L225.77,396.14 L224.69,394.42 L223.66,392.39 L222.67,390.01 L221.73,387.24 L220.83,384.07 L219.97,380.47 L219.16,376.42 L218.39,371.9 L217.67,366.93 L216.98,361.51 L216.34,355.68 L215.74,349.45 L215.18,342.9 L214.66,336.07 L214.18,329.06 L213.74,321.94 L213.34,314.82 L212.98,307.8 L212.65,300.99 L212.37,294.5 L212.11,288.43 L211.9,282.89 L211.71,277.97 L211.56,273.74 L211.45,270.26 L211.36,267.59 L211.3,265.72 L211.27,264.67 L211.26,264.35 Z" fill="#c0c0fd"/>
<path d="M282.35,264.35 L282.35,264.45 L282.37,264.79 L282.4,265.4 L282.44,266.28 L282.5,267.44 L282.57,268.87 L282.67,270.59 L282.77,272.58 L282.9,274.84 L283.05,277.35 L283.21,280.11 L283.39,283.09 L283.59,286.28 L283.81,289.67 L284.06,293.23 L284.32,296.95 L284.6,300.79 L284.9,304.75 L285.22,308.8 L285.57,312.91 L285.93,317.07 L286.32,321.25 L286.72,325.44 L287.15,329.6 L287.61,333.73 L288.08,337.8 L288.58,341.79 L289.09,345.7 L289.64,349.51 L290.2,353.2 L290.79,356.77 L291.4,360.2 L292.03,363.49 L292.69,366.63 L293.37,369.61 L294.08,372.44 L294.81,375.11 L295.56,377.63 L296.34,379.98 L297.14,382.18 L297.96,384.23 L298.81,386.13 L299.69,387.89 L300.59,389.5 L301.51,390.99 L302.46,392.34 L303.44,393.58 L304.44,394.7 L305.46,395.72 L306.51,396.64 L307.59,397.47 L308.69,398.21 L309.82,398.87 L310.97,399.45 L312.15,399.98 L313.36,400.44 L314.59,400.85 L315.85,401.2 L317.13,401.52 L317.13,403.26 L315.85,403.22 L314.59,403.17 L313.36,403.11 L312.15,403.03 L310.97,402.93 L309.82,402.82 L308.69,402.68 L307.59,402.51 L306.51,402.3 L305.46,402.05 L304.44,401.75 L303.44,401.4 L302.46,400.98 L301.51,400.49 L300.59,399.91 L299.69,399.24 L298.81,398.46 L297.96,397.56 L297.14,396.53 L296.34,395.36 L295.56,394.03 L294.81,392.52 L294.08,390.83 L293.37,388.94 L292.69,386.84 L292.03,384.53 L291.4,381.98 L290.79,379.19 L290.2,376.16 L289.64,372.88 L289.09,369.36 L288.58,365.6 L288.08,361.6 L287.61,357.37 L287.15,352.94 L286.72,348.3 L286.32,343.5 L285.93,338.55 L285.57,333.48 L285.22,328.32 L284.9,323.12 L284.6,317.9 L284.32,312.71 L284.06,307.6 L283.81,302.59 L283.59,297.75 L283.39,293.1 L283.21,288.69 L283.05,284.56 L282.9,280.75 L282.77,277.29 L282.67,274.2 L282.57,271.52 L282.5,269.25 L282.44,267.42 L282.4,266.02 L282.37,265.06 L282.35,264.51 L282.35,264.35 Z" fill="#c0c0fd"/>
<path d="M72.47,264.35 L72.47,264.58 L72.5,265.35 L72.56,266.71 L72.64,268.68 L72.75,271.25 L72.9,274.4 L73.07,278.1 L73.28,282.32 L73.52,287.01 L73.79,292.1 L74.1,297.54 L74.45,303.25 L74.83,309.18 L75.25,315.24 L75.7,321.38 L76.2,327.52 L76.73,333.59 L77.3,339.55 L77.91,345.33 L78.56,350.9 L79.25,356.21 L79.98,361.24 L80.75,365.95 L81.57,370.33 L82.42,374.37 L83.32,378.08 L84.26,381.44 L85.24,384.47 L86.27,387.19 L87.34,389.6 L88.45,391.72 L89.61,393.58 L90.81,395.19 L92.05,396.58 L93.34,397.77 L94.68,398.79 L96.06,399.64 L97.48,400.36 L98.95,400.95 L100.47,401.44 L102.03,401.84 L103.64,402.17 L105.3,402.44 L107,402.65 L108.75,402.82 L110.55,402.95 L112.4,403.06 L114.29,403.14 L116.23,403.2 L118.22,403.25 L120.26,403.29 L122.34,403.32 L124.48,403.34 L126.66,403.36 L128.89,403.37 L131.17,403.38 L133.51,403.38 L135.89,403.39 L138.32,403.39 L138.32,403.4 L135.89,403.4 L133.51,403.4 L131.17,403.4 L128.89,403.39 L126.66,403.39 L124.48,403.39 L122.34,403.38 L120.26,403.37 L118.22,403.36 L116.23,403.34 L114.29,403.32 L112.4,403.29 L110.55,403.24 L108.75,403.19 L107,403.11 L105.3,403.01 L103.64,402.88 L102.03,402.71 L100.47,402.5 L98.95,402.22 L97.48,401.88 L96.06,401.45 L94.68,400.92 L93.34,400.26 L92.05,399.46 L90.81,398.49 L89.61,397.33 L88.45,395.95 L87.34,394.33 L86.27,392.43 L85.24,390.23 L84.26,387.7 L83.32,384.82 L82.42,381.57 L81.57,377.93 L80.75,373.89 L79.98,369.46 L79.25,364.63 L78.56,359.42 L77.91,353.86 L77.3,347.97 L76.73,341.81 L76.2,335.43 L75.7,328.88 L75.25,322.25 L74.83,315.62 L74.45,309.05 L74.1,302.66 L73.79,296.51 L73.52,290.71 L73.28,285.33 L73.07,280.45 L72.9,276.14 L72.75,272.46 L72.64,269.45 L72.56,267.14 L72.5,265.53 L72.47,264.62 L72.47,264.35 Z" fill="#6a6aff"/>
<path d="M140.17,264.35 L140.18,264.59 L140.21,265.4 L140.27,266.83 L140.36,268.89 L140.48,271.58 L140.63,274.88 L140.81,278.75 L141.03,283.15 L141.28,288.03 L141.57,293.32 L141.89,298.96 L142.26,304.87 L142.66,310.98 L143.1,317.21 L143.58,323.5 L144.1,329.76 L144.66,335.94 L145.26,341.97 L145.9,347.8 L146.58,353.38 L147.31,358.68 L148.08,363.66 L148.89,368.31 L149.74,372.6 L150.64,376.54 L151.59,380.13 L152.57,383.36 L153.61,386.26 L154.68,388.83 L155.81,391.09 L156.98,393.07 L158.19,394.79 L159.46,396.27 L160.76,397.53 L162.12,398.6 L163.52,399.5 L164.97,400.26 L166.47,400.88 L168.02,401.39 L169.61,401.81 L171.26,402.15 L172.95,402.43 L174.69,402.65 L176.48,402.82 L178.32,402.96 L180.21,403.06 L182.15,403.15 L184.14,403.21 L186.18,403.26 L188.27,403.3 L190.42,403.32 L192.61,403.34 L194.85,403.36 L197.15,403.37 L199.5,403.38 L201.89,403.39 L204.34,403.39 L206.85,403.39 L209.4,403.4 L209.4,403.4 L206.85,403.4 L204.34,403.4 L201.89,403.4 L199.5,403.4 L197.15,403.39 L194.85,403.39 L192.61,403.39 L190.42,403.38 L188.27,403.37 L186.18,403.36 L184.14,403.34 L182.15,403.32 L180.21,403.29 L178.32,403.24 L176.48,403.19 L174.69,403.11 L172.95,403.01 L171.26,402.87 L169.61,402.7 L168.02,402.47 L166.47,402.19 L164.97,401.82 L163.52,401.37 L162.12,400.8 L160.76,400.1 L159.46,399.24 L158.19,398.21 L156.98,396.96 L155.81,395.48 L154.68,393.73 L153.61,391.68 L152.57,389.31 L151.59,386.59 L150.64,383.48 L149.74,379.99 L148.89,376.08 L148.08,371.75 L147.31,367.01 L146.58,361.86 L145.9,356.33 L145.26,350.45 L144.66,344.25 L144.1,337.8 L143.58,331.15 L143.1,324.39 L142.66,317.6 L142.26,310.85 L141.89,304.25 L141.57,297.9 L141.28,291.88 L141.03,286.28 L140.81,281.2 L140.63,276.7 L140.48,272.85 L140.36,269.7 L140.27,267.27 L140.21,265.59 L140.18,264.63 L140.17,264.35 Z" fill="#6a6aff"/>
<path d="M211.26,264.35 L211.27,264.59 L211.3,265.4 L211.36,266.83 L211.45,268.89 L211.56,271.58 L211.71,274.88 L211.9,278.75 L212.11,283.15 L212.37,288.03 L212.65,293.32 L212.98,298.96 L213.34,304.87 L213.74,310.98 L214.18,317.21 L214.66,323.5 L215.18,329.76 L215.74,335.94 L216.34,341.97 L216.98,347.8 L217.67,353.38 L218.39,358.68 L219.16,363.66 L219.97,368.31 L220.83,372.6 L221.73,376.54 L222.67,380.13 L223.66,383.36 L224.69,386.26 L225.77,388.83 L226.89,391.09 L228.06,393.07 L229.28,394.79 L230.54,396.27 L231.85,397.53 L233.21,398.6 L234.61,399.5 L236.06,400.26 L237.56,400.88 L239.11,401.39 L240.7,401.81 L242.34,402.15 L244.04,402.43 L245.78,402.65 L247.57,402.82 L249.41,402.96 L251.3,403.06 L253.24,403.15 L255.23,403.21 L257.27,403.26 L259.36,403.3 L261.5,403.32 L263.69,403.34 L265.94,403.36 L268.23,403.37 L270.58,403.38 L272.98,403.39 L275.43,403.39 L277.93,403.39 L280.49,403.4 L280.49,403.4 L277.93,403.4 L275.43,403.4 L272.98,403.4 L270.58,403.4 L268.23,403.39 L265.94,403.39 L263.69,403.39 L261.5,403.38 L259.36,403.37 L257.27,403.36 L255.23,403.34 L253.24,403.32 L251.3,403.29 L249.41,403.24 L247.57,403.19 L245.78,403.11 L244.04,403.01 L242.34,402.87 L240.7,402.7 L239.11,402.47 L237.56,402.19 L236.06,401.82 L234.61,401.37 L233.21,400.8 L231.85,400.1 L230.54,399.24 L229.28,398.21 L228.06,396.96 L226.89,395.48 L225.77,393.73 L224.69,391.68 L223.66,389.31 L222.67,386.59 L221.73,383.48 L220.83,379.99 L219.97,376.08 L219.16,371.75 L218.39,367.01 L217.67,361.86 L216.98,356.33 L216.34,350.45 L215.74,344.25 L215.18,337.8 L214.66,331.15 L214.18,324.39 L213.74,317.6 L213.34,310.85 L212.98,304.25 L212.65,297.9 L212.37,291.88 L212.11,286.28 L211.9,281.2 L211.71,276.7 L211.56,272.85 L211.45,269.7 L211.36,267.27 L211.3,265.59 L211.27,264.63 L211.26,264.35 Z" fill="#6a6aff"/>
<path d="M282.35,264.35 L282.35,264.47 L282.37,264.89 L282.4,265.63 L282.44,266.7 L282.5,268.11 L282.57,269.86 L282.67,271.94 L282.77,274.35 L282.9,277.06 L283.05,280.07 L283.21,283.36 L283.39,286.9 L283.59,290.67 L283.81,294.64 L284.06,298.79 L284.32,303.08 L284.6,307.5 L284.9,312 L285.22,316.56 L285.57,321.15 L285.93,325.75 L286.32,330.32 L286.72,334.84 L287.15,339.29 L287.61,343.64 L288.08,347.88 L288.58,351.99 L289.09,355.95 L289.64,359.75 L290.2,363.37 L290.79,366.82 L291.4,370.08 L292.03,373.15 L292.69,376.04 L293.37,378.73 L294.08,381.23 L294.81,383.54 L295.56,385.68 L296.34,387.64 L297.14,389.43 L297.96,391.06 L298.81,392.54 L299.69,393.87 L300.59,395.07 L301.51,396.14 L302.46,397.1 L303.44,397.95 L304.44,398.7 L305.46,399.37 L306.51,399.95 L307.59,400.46 L308.69,400.9 L309.82,401.28 L310.97,401.61 L312.15,401.9 L313.36,402.14 L314.59,402.35 L315.85,402.53 L317.13,402.68 L317.13,403.12 L315.85,403.05 L314.59,402.97 L313.36,402.86 L312.15,402.74 L310.97,402.59 L309.82,402.41 L308.69,402.19 L307.59,401.94 L306.51,401.64 L305.46,401.28 L304.44,400.86 L303.44,400.38 L302.46,399.81 L301.51,399.16 L300.59,398.41 L299.69,397.55 L298.81,396.57 L297.96,395.46 L297.14,394.2 L296.34,392.79 L295.56,391.22 L294.81,389.46 L294.08,387.52 L293.37,385.38 L292.69,383.04 L292.03,380.48 L291.4,377.7 L290.79,374.7 L290.2,371.48 L289.64,368.04 L289.09,364.37 L288.58,360.5 L288.08,356.42 L287.61,352.15 L287.15,347.71 L286.72,343.11 L286.32,338.39 L285.93,333.55 L285.57,328.64 L285.22,323.68 L284.9,318.71 L284.6,313.76 L284.32,308.86 L284.06,304.06 L283.81,299.39 L283.59,294.89 L283.39,290.59 L283.21,286.53 L283.05,282.74 L282.9,279.25 L282.77,276.09 L282.67,273.28 L282.57,270.84 L282.5,268.78 L282.44,267.12 L282.4,265.86 L282.37,264.99 L282.35,264.5 L282.35,264.35 Z" fill="#6a6aff"/>
<path d="M57.1,403.4 L70.61,403.4 L72.47,264.35 L72.49,264.95 L72.56,266.95 L72.7,270.44 L72.9,275.38 L73.18,281.65 L73.54,289.09 L73.97,297.47 L74.48,306.54 L75.08,316.02 L75.76,325.66 L76.53,335.2 L77.39,344.4 L78.34,353.09 L79.38,361.12 L80.51,368.38 L81.74,374.82 L83.06,380.42 L84.48,385.2 L86,389.2 L87.62,392.48 L89.33,395.14 L91.15,397.24 L93.07,398.88 L95.1,400.14 L97.22,401.08 L99.45,401.77 L101.79,402.28 L104.23,402.64 L106.78,402.89 L109.44,403.07 L112.2,403.18 L115.08,403.26 L118.06,403.31 L121.16,403.35 L124.37,403.37 L127.68,403.38 L131.12,403.39 L134.66,403.39 L138.32,403.4 L138.32,403.4 L140.17,264.35 L140.2,264.98 L140.27,267.08 L140.42,270.73 L140.64,275.9 L140.93,282.45 L141.3,290.2 L141.76,298.89 L142.3,308.26 L142.92,318.01 L143.64,327.87 L144.45,337.56 L145.35,346.86 L146.35,355.57 L147.44,363.54 L148.63,370.7 L149.92,376.98 L151.32,382.38 L152.81,386.94 L154.4,390.71 L156.1,393.78 L157.91,396.22 L159.82,398.12 L161.84,399.59 L163.96,400.69 L166.2,401.5 L168.55,402.1 L171,402.52 L173.57,402.81 L176.25,403.02 L179.04,403.15 L181.95,403.24 L184.97,403.3 L188.11,403.34 L191.37,403.36 L194.74,403.38 L198.23,403.39 L201.83,403.39 L205.56,403.4 L209.4,403.4 L209.4,403.4 L211.26,264.35 L211.28,264.98 L211.36,267.08 L211.51,270.73 L211.72,275.9 L212.01,282.45 L212.39,290.2 L212.84,298.89 L213.38,308.26 L214.01,318.01 L214.73,327.87 L215.54,337.56 L216.44,346.86 L217.43,355.57 L218.53,363.54 L219.72,370.7 L221.01,376.98 L222.4,382.38 L223.89,386.94 L225.49,390.71 L227.19,393.78 L228.99,396.22 L230.91,398.12 L232.92,399.59 L235.05,400.69 L237.29,401.5 L239.63,402.1 L242.09,402.52 L244.66,402.81 L247.34,403.02 L250.13,403.15 L253.04,403.24 L256.06,403.3 L259.2,403.34 L262.45,403.36 L265.82,403.38 L269.31,403.39 L272.92,403.39 L276.64,403.4 L280.49,403.4 L280.49,403.4 L282.35,264.35 L282.36,264.67 L282.4,265.76 L282.47,267.67 L282.58,270.41 L282.73,273.96 L282.91,278.29 L283.14,283.32 L283.41,288.97 L283.73,295.16 L284.09,301.77 L284.49,308.69 L284.95,315.81 L285.45,323.02 L286,330.21 L286.6,337.28 L287.24,344.14 L287.94,350.71 L288.69,356.93 L289.5,362.75 L290.35,368.13 L291.26,373.05 L292.22,377.5 L293.23,381.48 L294.3,385 L295.42,388.09 L296.6,390.77 L297.84,393.06 L299.13,395.02 L300.47,396.66 L301.88,398.02 L303.34,399.15 L304.85,400.07 L306.43,400.81 L308.07,401.41 L309.76,401.88 L311.51,402.25 L313.33,402.54 L315.2,402.76 L317.13,402.93" fill="none" stroke="#1010ff" stroke-width="1.5" stroke-linejoin="round"/>
<path d="M423.13,264.35 L423.14,264.9 L423.17,266.86 L423.22,270.4 L423.31,275.52 L423.42,282.13 L423.56,290.04 L423.73,299.01 L423.94,308.75 L424.18,318.93 L424.46,329.23 L424.77,339.34 L425.11,349.01 L425.49,358 L425.91,366.16 L426.37,373.4 L426.86,379.65 L427.4,384.95 L427.97,389.32 L428.58,392.86 L429.23,395.65 L429.92,397.82 L430.65,399.45 L431.43,400.66 L432.24,401.54 L433.1,402.16 L433.99,402.59 L434.93,402.88 L435.92,403.07 L436.94,403.2 L438.01,403.28 L439.13,403.33 L440.28,403.36 L441.49,403.38 L442.73,403.39 L444.02,403.39 L445.36,403.4 L446.74,403.4 L448.17,403.4 L449.64,403.4 L451.16,403.4 L452.72,403.4 L454.33,403.4 L455.99,403.4 L457.7,403.4 L459.45,403.4 L461.25,403.4 L463.1,403.4 L464.99,403.4 L466.93,403.4 L468.92,403.4 L470.96,403.4 L473.05,403.4 L475.19,403.4 L477.37,403.4 L479.61,403.4 L481.89,403.4 L484.22,403.4 L486.61,403.4 L489.04,403.4 L489.04,403.4 L486.61,403.4 L484.22,403.4 L481.89,403.4 L479.61,403.4 L477.37,403.4 L475.19,403.4 L473.05,403.4 L470.96,403.4 L468.92,403.4 L466.93,403.4 L464.99,403.4 L463.1,403.4 L461.25,403.4 L459.45,403.4 L457.7,403.4 L455.99,403.4 L454.33,403.4 L452.72,403.4 L451.16,403.4 L449.64,403.4 L448.17,403.4 L446.74,403.4 L445.36,403.4 L444.02,403.4 L442.73,403.4 L441.49,403.4 L440.28,403.4 L439.13,403.4 L438.01,403.4 L436.94,403.4 L435.92,403.4 L434.93,403.4 L433.99,403.4 L433.1,403.4 L432.24,403.4 L431.43,403.4 L430.65,403.39 L429.92,403.37 L429.23,403.33 L428.58,403.24 L427.97,403.06 L427.4,402.71 L426.86,402.06 L426.37,400.92 L425.91,399.02 L425.49,396.04 L425.11,391.57 L424.77,385.22 L424.46,376.69 L424.18,365.82 L423.94,352.74 L423.73,337.89 L423.56,322.06 L423.42,306.29 L423.31,291.78 L423.22,279.67 L423.17,270.84 L423.14,265.79 L423.13,264.35 Z" fill="#c0c0fd"/>
<path d="M490.9,264.35 L490.91,264.93 L490.94,266.99 L491,270.7 L491.08,276.06 L491.2,282.97 L491.35,291.22 L491.53,300.54 L491.75,310.6 L492,321.06 L492.29,331.58 L492.62,341.84 L492.98,351.56 L493.38,360.53 L493.82,368.6 L494.3,375.66 L494.82,381.71 L495.38,386.76 L495.98,390.88 L496.63,394.16 L497.31,396.72 L498.04,398.66 L498.81,400.11 L499.62,401.16 L500.48,401.91 L501.38,402.42 L502.32,402.78 L503.31,403.01 L504.34,403.16 L505.42,403.26 L506.55,403.32 L507.72,403.35 L508.93,403.37 L510.2,403.39 L511.51,403.39 L512.86,403.4 L514.27,403.4 L515.72,403.4 L517.22,403.4 L518.77,403.4 L520.36,403.4 L522.01,403.4 L523.7,403.4 L525.45,403.4 L527.24,403.4 L529.08,403.4 L530.97,403.4 L532.91,403.4 L534.91,403.4 L536.95,403.4 L539.04,403.4 L541.18,403.4 L543.38,403.4 L545.63,403.4 L547.92,403.4 L550.27,403.4 L552.67,403.4 L555.13,403.4 L557.63,403.4 L560.19,403.4 L560.19,403.4 L557.63,403.4 L555.13,403.4 L552.67,403.4 L550.27,403.4 L547.92,403.4 L545.63,403.4 L543.38,403.4 L541.18,403.4 L539.04,403.4 L536.95,403.4 L534.91,403.4 L532.91,403.4 L530.97,403.4 L529.08,403.4 L527.24,403.4 L525.45,403.4 L523.7,403.4 L522.01,403.4 L520.36,403.4 L518.77,403.4 L517.22,403.4 L515.72,403.4 L514.27,403.4 L512.86,403.4 L511.51,403.4 L510.2,403.4 L508.93,403.4 L507.72,403.4 L506.55,403.4 L505.42,403.4 L504.34,403.4 L503.31,403.4 L502.32,403.4 L501.38,403.4 L500.48,403.4 L499.62,403.4 L498.81,403.39 L498.04,403.38 L497.31,403.35 L496.63,403.29 L495.98,403.15 L495.38,402.87 L494.82,402.34 L494.3,401.38 L493.82,399.73 L493.38,397.07 L492.98,392.97 L492.62,387.02 L492.29,378.85 L492,368.26 L491.75,355.3 L491.53,340.38 L491.35,324.27 L491.2,308.07 L491.08,293.03 L491,280.4 L490.94,271.17 L490.91,265.86 L490.9,264.35 Z" fill="#c0c0fd"/>
<path d="M562.05,264.35 L562.06,264.93 L562.09,266.99 L562.15,270.7 L562.23,276.06 L562.35,282.97 L562.5,291.22 L562.68,300.54 L562.9,310.6 L563.15,321.06 L563.44,331.58 L563.77,341.84 L564.13,351.56 L564.53,360.53 L564.97,368.6 L565.45,375.66 L565.97,381.71 L566.53,386.76 L567.13,390.88 L567.78,394.16 L568.46,396.72 L569.19,398.66 L569.96,400.11 L570.77,401.16 L571.62,401.91 L572.52,402.42 L573.47,402.78 L574.46,403.01 L575.49,403.16 L576.57,403.26 L577.7,403.32 L578.87,403.35 L580.08,403.37 L581.35,403.39 L582.66,403.39 L584.01,403.4 L585.42,403.4 L586.87,403.4 L588.37,403.4 L589.92,403.4 L591.51,403.4 L593.16,403.4 L594.85,403.4 L596.6,403.4 L598.39,403.4 L600.23,403.4 L602.12,403.4 L604.06,403.4 L606.05,403.4 L608.1,403.4 L610.19,403.4 L612.33,403.4 L614.53,403.4 L616.77,403.4 L619.07,403.4 L621.42,403.4 L623.82,403.4 L626.27,403.4 L628.78,403.4 L631.34,403.4 L631.34,403.4 L628.78,403.4 L626.27,403.4 L623.82,403.4 L621.42,403.4 L619.07,403.4 L616.77,403.4 L614.53,403.4 L612.33,403.4 L610.19,403.4 L608.1,403.4 L606.05,403.4 L604.06,403.4 L602.12,403.4 L600.23,403.4 L598.39,403.4 L596.6,403.4 L594.85,403.4 L593.16,403.4 L591.51,403.4 L589.92,403.4 L588.37,403.4 L586.87,403.4 L585.42,403.4 L584.01,403.4 L582.66,403.4 L581.35,403.4 L580.08,403.4 L578.87,403.4 L577.7,403.4 L576.57,403.4 L575.49,403.4 L574.46,403.4 L573.47,403.4 L572.52,403.4 L571.62,403.4 L570.77,403.4 L569.96,403.39 L569.19,403.38 L568.46,403.35 L567.78,403.29 L567.13,403.15 L566.53,402.87 L565.97,402.34 L565.45,401.38 L564.97,399.73 L564.53,397.07 L564.13,392.97 L563.77,387.02 L563.44,378.85 L563.15,368.26 L562.9,355.3 L562.68,340.38 L562.5,324.27 L562.35,308.07 L562.23,293.03 L562.15,280.4 L562.09,271.17 L562.06,265.86 L562.05,264.35 Z" fill="#c0c0fd"/>
<path d="M633.2,264.35 L633.2,264.64 L633.22,265.68 L633.25,267.58 L633.29,270.36 L633.35,274.04 L633.42,278.57 L633.52,283.89 L633.63,289.92 L633.75,296.54 L633.9,303.63 L634.06,311.06 L634.24,318.7 L634.44,326.42 L634.67,334.07 L634.91,341.54 L635.17,348.73 L635.45,355.55 L635.75,361.92 L636.07,367.8 L636.42,373.15 L636.78,377.95 L637.17,382.21 L637.58,385.93 L638.01,389.15 L638.46,391.89 L638.93,394.21 L639.43,396.14 L639.95,397.72 L640.49,399 L641.06,400.04 L641.65,400.85 L642.26,401.49 L642.89,401.99 L643.55,402.37 L644.23,402.65 L644.94,402.86 L645.67,403.02 L646.42,403.13 L647.2,403.22 L648,403.27 L648.83,403.31 L649.68,403.34 L650.55,403.36 L651.45,403.38 L652.38,403.38 L653.33,403.39 L654.31,403.39 L655.31,403.4 L656.33,403.4 L657.38,403.4 L658.46,403.4 L659.56,403.4 L660.69,403.4 L661.85,403.4 L663.03,403.4 L664.23,403.4 L665.47,403.4 L666.73,403.4 L668.01,403.4 L668.01,403.4 L666.73,403.4 L665.47,403.4 L664.23,403.4 L663.03,403.4 L661.85,403.4 L660.69,403.4 L659.56,403.4 L658.46,403.4 L657.38,403.4 L656.33,403.4 L655.31,403.4 L654.31,403.4 L653.33,403.4 L652.38,403.4 L651.45,403.4 L650.55,403.4 L649.68,403.4 L648.83,403.4 L648,403.4 L647.2,403.4 L646.42,403.4 L645.67,403.4 L644.94,403.4 L644.23,403.4 L643.55,403.4 L642.89,403.4 L642.26,403.4 L641.65,403.4 L641.06,403.39 L640.49,403.38 L639.95,403.37 L639.43,403.34 L638.93,403.29 L638.46,403.2 L638.01,403.05 L637.58,402.8 L637.17,402.4 L636.78,401.79 L636.42,400.86 L636.07,399.51 L635.75,397.59 L635.45,394.95 L635.17,391.41 L634.91,386.81 L634.67,381.02 L634.44,373.95 L634.24,365.56 L634.06,355.93 L633.9,345.23 L633.75,333.73 L633.63,321.83 L633.52,309.97 L633.42,298.65 L633.35,288.37 L633.29,279.59 L633.25,272.66 L633.22,267.82 L633.2,265.11 L633.2,264.35 Z" fill="#c0c0fd"/>
<path d="M423.13,264.35 L423.14,265.24 L423.17,268.41 L423.22,274.04 L423.31,282.04 L423.42,292.06 L423.56,303.63 L423.73,316.14 L423.94,328.98 L424.18,341.54 L424.46,353.32 L424.77,363.94 L425.11,373.15 L425.49,380.85 L425.91,387.06 L426.37,391.89 L426.86,395.53 L427.4,398.18 L427.97,400.04 L428.58,401.3 L429.23,402.13 L429.92,402.65 L430.65,402.97 L431.43,403.16 L432.24,403.27 L433.1,403.33 L433.99,403.37 L434.93,403.38 L435.92,403.39 L436.94,403.4 L438.01,403.4 L439.13,403.4 L440.28,403.4 L441.49,403.4 L442.73,403.4 L444.02,403.4 L445.36,403.4 L446.74,403.4 L448.17,403.4 L449.64,403.4 L451.16,403.4 L452.72,403.4 L454.33,403.4 L455.99,403.4 L457.7,403.4 L459.45,403.4 L461.25,403.4 L463.1,403.4 L464.99,403.4 L466.93,403.4 L468.92,403.4 L470.96,403.4 L473.05,403.4 L475.19,403.4 L477.37,403.4 L479.61,403.4 L481.89,403.4 L484.22,403.4 L486.61,403.4 L489.04,403.4 L489.04,403.4 L486.61,403.4 L484.22,403.4 L481.89,403.4 L479.61,403.4 L477.37,403.4 L475.19,403.4 L473.05,403.4 L470.96,403.4 L468.92,403.4 L466.93,403.4 L464.99,403.4 L463.1,403.4 L461.25,403.4 L459.45,403.4 L457.7,403.4 L455.99,403.4 L454.33,403.4 L452.72,403.4 L451.16,403.4 L449.64,403.4 L448.17,403.4 L446.74,403.4 L445.36,403.4 L444.02,403.4 L442.73,403.4 L441.49,403.4 L440.28,403.4 L439.13,403.4 L438.01,403.4 L436.94,403.4 L435.92,403.4 L434.93,403.4 L433.99,403.4 L433.1,403.4 L432.24,403.39 L431.43,403.37 L430.65,403.34 L429.92,403.28 L429.23,403.15 L428.58,402.91 L427.97,402.47 L427.4,401.72 L426.86,400.49 L426.37,398.54 L425.91,395.61 L425.49,391.38 L425.11,385.56 L424.77,377.88 L424.46,368.23 L424.18,356.66 L423.94,343.46 L423.73,329.14 L423.56,314.46 L423.42,300.31 L423.31,287.62 L423.22,277.24 L423.17,269.78 L423.14,265.55 L423.13,264.35 Z" fill="#6a6aff"/>
<path d="M490.9,264.35 L490.91,265.29 L490.94,268.61 L491,274.52 L491.08,282.88 L491.2,293.32 L491.35,305.31 L491.53,318.2 L491.75,331.33 L492,344.06 L492.29,355.88 L492.62,366.41 L492.98,375.42 L493.38,382.85 L493.82,388.76 L494.3,393.27 L494.82,396.61 L495.38,398.99 L495.98,400.62 L496.63,401.7 L497.31,402.4 L498.04,402.83 L498.81,403.08 L499.62,403.23 L500.48,403.31 L501.38,403.36 L502.32,403.38 L503.31,403.39 L504.34,403.4 L505.42,403.4 L506.55,403.4 L507.72,403.4 L508.93,403.4 L510.2,403.4 L511.51,403.4 L512.86,403.4 L514.27,403.4 L515.72,403.4 L517.22,403.4 L518.77,403.4 L520.36,403.4 L522.01,403.4 L523.7,403.4 L525.45,403.4 L527.24,403.4 L529.08,403.4 L530.97,403.4 L532.91,403.4 L534.91,403.4 L536.95,403.4 L539.04,403.4 L541.18,403.4 L543.38,403.4 L545.63,403.4 L547.92,403.4 L550.27,403.4 L552.67,403.4 L555.13,403.4 L557.63,403.4 L560.19,403.4 L560.19,403.4 L557.63,403.4 L555.13,403.4 L552.67,403.4 L550.27,403.4 L547.92,403.4 L545.63,403.4 L543.38,403.4 L541.18,403.4 L539.04,403.4 L536.95,403.4 L534.91,403.4 L532.91,403.4 L530.97,403.4 L529.08,403.4 L527.24,403.4 L525.45,403.4 L523.7,403.4 L522.01,403.4 L520.36,403.4 L518.77,403.4 L517.22,403.4 L515.72,403.4 L514.27,403.4 L512.86,403.4 L511.51,403.4 L510.2,403.4 L508.93,403.4 L507.72,403.4 L506.55,403.4 L505.42,403.4 L504.34,403.4 L503.31,403.4 L502.32,403.4 L501.38,403.4 L500.48,403.39 L499.62,403.38 L498.81,403.36 L498.04,403.31 L497.31,403.22 L496.63,403.03 L495.98,402.68 L495.38,402.06 L494.82,401.01 L494.3,399.31 L493.82,396.68 L493.38,392.8 L492.98,387.34 L492.62,380.01 L492.29,370.63 L492,359.21 L491.75,345.99 L491.53,331.49 L491.35,316.47 L491.2,301.88 L491.08,288.7 L491,277.86 L490.94,270.06 L490.91,265.61 L490.9,264.35 Z" fill="#6a6aff"/>
<path d="M562.05,264.35 L562.06,265.29 L562.09,268.61 L562.15,274.52 L562.23,282.88 L562.35,293.32 L562.5,305.31 L562.68,318.2 L562.9,331.33 L563.15,344.06 L563.44,355.88 L563.77,366.41 L564.13,375.42 L564.53,382.85 L564.97,388.76 L565.45,393.27 L565.97,396.61 L566.53,398.99 L567.13,400.62 L567.78,401.7 L568.46,402.4 L569.19,402.83 L569.96,403.08 L570.77,403.23 L571.62,403.31 L572.52,403.36 L573.47,403.38 L574.46,403.39 L575.49,403.4 L576.57,403.4 L577.7,403.4 L578.87,403.4 L580.08,403.4 L581.35,403.4 L582.66,403.4 L584.01,403.4 L585.42,403.4 L586.87,403.4 L588.37,403.4 L589.92,403.4 L591.51,403.4 L593.16,403.4 L594.85,403.4 L596.6,403.4 L598.39,403.4 L600.23,403.4 L602.12,403.4 L604.06,403.4 L606.05,403.4 L608.1,403.4 L610.19,403.4 L612.33,403.4 L614.53,403.4 L616.77,403.4 L619.07,403.4 L621.42,403.4 L623.82,403.4 L626.27,403.4 L628.78,403.4 L631.34,403.4 L631.34,403.4 L628.78,403.4 L626.27,403.4 L623.82,403.4 L621.42,403.4 L619.07,403.4 L616.77,403.4 L614.53,403.4 L612.33,403.4 L610.19,403.4 L608.1,403.4 L606.05,403.4 L604.06,403.4 L602.12,403.4 L600.23,403.4 L598.39,403.4 L596.6,403.4 L594.85,403.4 L593.16,403.4 L591.51,403.4 L589.92,403.4 L588.37,403.4 L586.87,403.4 L585.42,403.4 L584.01,403.4 L582.66,403.4 L581.35,403.4 L580.08,403.4 L578.87,403.4 L577.7,403.4 L576.57,403.4 L575.49,403.4 L574.46,403.4 L573.47,403.4 L572.52,403.4 L571.62,403.39 L570.77,403.38 L569.96,403.36 L569.19,403.31 L568.46,403.22 L567.78,403.03 L567.13,402.68 L566.53,402.06 L565.97,401.01 L565.45,399.31 L564.97,396.68 L564.53,392.8 L564.13,387.34 L563.77,380.01 L563.44,370.63 L563.15,359.21 L562.9,345.99 L562.68,331.49 L562.5,316.47 L562.35,301.88 L562.23,288.7 L562.15,277.86 L562.09,270.06 L562.06,265.61 L562.05,264.35 Z" fill="#6a6aff"/>
<path d="M633.2,264.35 L633.2,264.82 L633.22,266.51 L633.25,269.56 L633.29,273.99 L633.35,279.75 L633.42,286.71 L633.52,294.69 L633.63,303.45 L633.75,312.75 L633.9,322.32 L634.06,331.91 L634.24,341.27 L634.44,350.2 L634.67,358.52 L634.91,366.12 L635.17,372.9 L635.45,378.83 L635.75,383.93 L636.07,388.21 L636.42,391.74 L636.78,394.59 L637.17,396.86 L637.58,398.62 L638.01,399.97 L638.46,400.98 L638.93,401.72 L639.43,402.25 L639.95,402.63 L640.49,402.89 L641.06,403.07 L641.65,403.19 L642.26,403.27 L642.89,403.32 L643.55,403.35 L644.23,403.37 L644.94,403.38 L645.67,403.39 L646.42,403.39 L647.2,403.4 L648,403.4 L648.83,403.4 L649.68,403.4 L650.55,403.4 L651.45,403.4 L652.38,403.4 L653.33,403.4 L654.31,403.4 L655.31,403.4 L656.33,403.4 L657.38,403.4 L658.46,403.4 L659.56,403.4 L660.69,403.4 L661.85,403.4 L663.03,403.4 L664.23,403.4 L665.47,403.4 L666.73,403.4 L668.01,403.4 L668.01,403.4 L666.73,403.4 L665.47,403.4 L664.23,403.4 L663.03,403.4 L661.85,403.4 L660.69,403.4 L659.56,403.4 L658.46,403.4 L657.38,403.4 L656.33,403.4 L655.31,403.4 L654.31,403.4 L653.33,403.4 L652.38,403.4 L651.45,403.4 L650.55,403.4 L649.68,403.4 L648.83,403.4 L648,403.4 L647.2,403.4 L646.42,403.4 L645.67,403.4 L644.94,403.4 L644.23,403.4 L643.55,403.4 L642.89,403.39 L642.26,403.39 L641.65,403.38 L641.06,403.36 L640.49,403.33 L639.95,403.27 L639.43,403.18 L638.93,403.03 L638.46,402.8 L638.01,402.45 L637.58,401.91 L637.17,401.13 L636.78,400.01 L636.42,398.46 L636.07,396.34 L635.75,393.54 L635.45,389.92 L635.17,385.36 L634.91,379.76 L634.67,373.06 L634.44,365.25 L634.24,356.39 L634.06,346.61 L633.9,336.13 L633.75,325.23 L633.63,314.24 L633.52,303.57 L633.42,293.58 L633.35,284.68 L633.29,277.17 L633.25,271.31 L633.22,267.25 L633.2,264.99 L633.2,264.35 Z" fill="#6a6aff"/>
<path d="M407.75,403.4 L421.27,403.4 L423.13,264.35 L423.14,265.38 L423.17,269.02 L423.22,275.47 L423.31,284.55 L423.42,295.8 L423.56,308.6 L423.73,322.18 L423.94,335.8 L424.18,348.79 L424.46,360.6 L424.77,370.89 L425.11,379.47 L425.49,386.35 L425.91,391.64 L426.37,395.56 L426.86,398.34 L427.4,400.25 L427.97,401.5 L428.58,402.3 L429.23,402.78 L429.92,403.06 L430.65,403.22 L431.43,403.31 L432.24,403.36 L433.1,403.38 L433.99,403.39 L434.93,403.4 L435.92,403.4 L436.94,403.4 L438.01,403.4 L439.13,403.4 L440.28,403.4 L441.49,403.4 L442.73,403.4 L444.02,403.4 L445.36,403.4 L446.74,403.4 L448.17,403.4 L449.64,403.4 L451.16,403.4 L452.72,403.4 L454.33,403.4 L455.99,403.4 L457.7,403.4 L459.45,403.4 L461.25,403.4 L463.1,403.4 L464.99,403.4 L466.93,403.4 L468.92,403.4 L470.96,403.4 L473.05,403.4 L475.19,403.4 L477.37,403.4 L479.61,403.4 L481.89,403.4 L484.22,403.4 L486.61,403.4 L489.04,403.4 L489.04,403.4 L490.9,264.35 L490.91,265.43 L490.94,269.26 L491,276.02 L491.08,285.5 L491.2,297.21 L491.35,310.44 L491.53,324.39 L491.75,338.26 L492,351.34 L492.29,363.11 L492.62,373.22 L492.98,381.54 L493.38,388.09 L493.82,393.04 L494.3,396.63 L494.82,399.13 L495.38,400.8 L495.98,401.88 L496.63,402.54 L497.31,402.93 L498.04,403.15 L498.81,403.28 L499.62,403.34 L500.48,403.37 L501.38,403.39 L502.32,403.39 L503.31,403.4 L504.34,403.4 L505.42,403.4 L506.55,403.4 L507.72,403.4 L508.93,403.4 L510.2,403.4 L511.51,403.4 L512.86,403.4 L514.27,403.4 L515.72,403.4 L517.22,403.4 L518.77,403.4 L520.36,403.4 L522.01,403.4 L523.7,403.4 L525.45,403.4 L527.24,403.4 L529.08,403.4 L530.97,403.4 L532.91,403.4 L534.91,403.4 L536.95,403.4 L539.04,403.4 L541.18,403.4 L543.38,403.4 L545.63,403.4 L547.92,403.4 L550.27,403.4 L552.67,403.4 L555.13,403.4 L557.63,403.4 L560.19,403.4 L560.19,403.4 L562.05,264.35 L562.06,265.43 L562.09,269.26 L562.15,276.02 L562.23,285.5 L562.35,297.21 L562.5,310.44 L562.68,324.39 L562.9,338.26 L563.15,351.34 L563.44,363.11 L563.77,373.22 L564.13,381.54 L564.53,388.09 L564.97,393.04 L565.45,396.63 L565.97,399.13 L566.53,400.8 L567.13,401.88 L567.78,402.54 L568.46,402.93 L569.19,403.15 L569.96,403.28 L570.77,403.34 L571.62,403.37 L572.52,403.39 L573.47,403.39 L574.46,403.4 L575.49,403.4 L576.57,403.4 L577.7,403.4 L578.87,403.4 L580.08,403.4 L581.35,403.4 L582.66,403.4 L584.01,403.4 L585.42,403.4 L586.87,403.4 L588.37,403.4 L589.92,403.4 L591.51,403.4 L593.16,403.4 L594.85,403.4 L596.6,403.4 L598.39,403.4 L600.23,403.4 L602.12,403.4 L604.06,403.4 L606.05,403.4 L608.1,403.4 L610.19,403.4 L612.33,403.4 L614.53,403.4 L616.77,403.4 L619.07,403.4 L621.42,403.4 L623.82,403.4 L626.27,403.4 L628.78,403.4 L631.34,403.4 L631.34,403.4 L633.2,264.35 L633.2,264.9 L633.22,266.84 L633.25,270.34 L633.29,275.41 L633.35,281.97 L633.42,289.82 L633.52,298.73 L633.63,308.4 L633.75,318.52 L633.9,328.78 L634.06,338.86 L634.24,348.51 L634.44,357.51 L634.67,365.69 L634.91,372.95 L635.17,379.25 L635.45,384.59 L635.75,389.01 L636.07,392.59 L636.42,395.44 L636.78,397.64 L637.17,399.31 L637.58,400.56 L638.01,401.46 L638.46,402.1 L638.93,402.55 L639.43,402.85 L639.95,403.05 L640.49,403.19 L641.06,403.27 L641.65,403.32 L642.26,403.36 L642.89,403.37 L643.55,403.39 L644.23,403.39 L644.94,403.4 L645.67,403.4 L646.42,403.4 L647.2,403.4 L648,403.4 L648.83,403.4 L649.68,403.4 L650.55,403.4 L651.45,403.4 L652.38,403.4 L653.33,403.4 L654.31,403.4 L655.31,403.4 L656.33,403.4 L657.38,403.4 L658.46,403.4 L659.56,403.4 L660.69,403.4 L661.85,403.4 L663.03,403.4 L664.23,403.4 L665.47,403.4 L666.73,403.4 L668.01,403.4" fill="none" stroke="#1010ff" stroke-width="1.4" stroke-linejoin="round"/>
<line x1="199.45" y1="42.5" x2="199.45" y2="208.5" stroke="#ff0000" stroke-width="0.8" stroke-dasharray="2.1 1.0"/>
<line x1="549.7" y1="42.5" x2="549.7" y2="208.5" stroke="#ff0000" stroke-width="0.8" stroke-dasharray="2.1 1.0"/>
<line x1="199.45" y1="250.6" x2="199.45" y2="417.0" stroke="#ff0000" stroke-width="0.8" stroke-dasharray="2.1 1.0"/>
<line x1="549.75" y1="250.6" x2="549.75" y2="417.0" stroke="#ff0000" stroke-width="0.8" stroke-dasharray="2.1 1.0"/>
<line x1="201.8" y1="49.7" x2="212.9" y2="49.7" stroke="#ff0000" stroke-width="2"/>
<path d="M210.70000000000002,46.0 L217.9,49.7 L210.70000000000002,53.400000000000006 Z" fill="#ff0000"/>
<text x="220.9" y="53.6" font-size="11.9" text-anchor="start" fill="#ff0000" >Prediction</text>
<line x1="552.2" y1="49.7" x2="563.4" y2="49.7" stroke="#ff0000" stroke-width="2"/>
<path d="M561.1999999999999,46.0 L568.4,49.7 L561.1999999999999,53.400000000000006 Z" fill="#ff0000"/>
<text x="571.6" y="53.4" font-size="11.9" text-anchor="start" fill="#ff0000" >Prediction</text>
<line x1="202.0" y1="410.9" x2="213.2" y2="410.9" stroke="#ff0000" stroke-width="2"/>
<path d="M211.0,407.2 L218.2,410.9 L211.0,414.59999999999997 Z" fill="#ff0000"/>
<text x="221.3" y="414.1" font-size="11.9" text-anchor="start" fill="#ff0000" >Prediction</text>
<line x1="552.4" y1="410.9" x2="563.8" y2="410.9" stroke="#ff0000" stroke-width="2"/>
<path d="M561.5999999999999,407.2 L568.8,410.9 L561.5999999999999,414.59999999999997 Z" fill="#ff0000"/>
<text x="571.9" y="414.1" font-size="11.9" text-anchor="start" fill="#ff0000" >Prediction</text>
<rect x="44.5" y="42.5" width="286" height="166" fill="none" stroke="#262626" stroke-width="1.1"/>
<rect x="394.55" y="42.5" width="286.95" height="166" fill="none" stroke="#262626" stroke-width="1.1"/>
<rect x="44.5" y="250.6" width="286" height="166.4" fill="none" stroke="#262626" stroke-width="1.1"/>
<rect x="394.55" y="250.6" width="286.95" height="166.4" fill="none" stroke="#262626" stroke-width="1.1"/>
<line x1="57.46" y1="208.5" x2="57.46" y2="212.7" stroke="#262626" stroke-width="1.1"/>
<text x="57.46" y="225.6" font-size="12.0" text-anchor="middle" fill="#000000" >0</text>
<line x1="125.07" y1="208.5" x2="125.07" y2="212.7" stroke="#262626" stroke-width="1.1"/>
<text x="125.07" y="225.6" font-size="12.0" text-anchor="middle" fill="#000000" >20</text>
<line x1="192.68" y1="208.5" x2="192.68" y2="212.7" stroke="#262626" stroke-width="1.1"/>
<text x="192.68" y="225.6" font-size="12.0" text-anchor="middle" fill="#000000" >40</text>
<line x1="260.29" y1="208.5" x2="260.29" y2="212.7" stroke="#262626" stroke-width="1.1"/>
<text x="260.29" y="225.6" font-size="12.0" text-anchor="middle" fill="#000000" >60</text>
<line x1="327.9" y1="208.5" x2="327.9" y2="212.7" stroke="#262626" stroke-width="1.1"/>
<text x="327.9" y="225.6" font-size="12.0" text-anchor="middle" fill="#000000" >80</text>
<line x1="407.56" y1="208.5" x2="407.56" y2="212.7" stroke="#262626" stroke-width="1.1"/>
<text x="407.56" y="225.6" font-size="12.0" text-anchor="middle" fill="#000000" >0</text>
<line x1="475.3" y1="208.5" x2="475.3" y2="212.7" stroke="#262626" stroke-width="1.1"/>
<text x="475.3" y="225.6" font-size="12.0" text-anchor="middle" fill="#000000" >20</text>
<line x1="543.04" y1="208.5" x2="543.04" y2="212.7" stroke="#262626" stroke-width="1.1"/>
<text x="543.04" y="225.6" font-size="12.0" text-anchor="middle" fill="#000000" >40</text>
<line x1="610.78" y1="208.5" x2="610.78" y2="212.7" stroke="#262626" stroke-width="1.1"/>
<text x="610.78" y="225.6" font-size="12.0" text-anchor="middle" fill="#000000" >60</text>
<line x1="678.52" y1="208.5" x2="678.52" y2="212.7" stroke="#262626" stroke-width="1.1"/>
<text x="678.52" y="225.6" font-size="12.0" text-anchor="middle" fill="#000000" >80</text>
<line x1="57.46" y1="417" x2="57.46" y2="421.2" stroke="#262626" stroke-width="1.1"/>
<text x="57.46" y="434.1" font-size="12.0" text-anchor="middle" fill="#000000" >0</text>
<line x1="125.07" y1="417" x2="125.07" y2="421.2" stroke="#262626" stroke-width="1.1"/>
<text x="125.07" y="434.1" font-size="12.0" text-anchor="middle" fill="#000000" >20</text>
<line x1="192.68" y1="417" x2="192.68" y2="421.2" stroke="#262626" stroke-width="1.1"/>
<text x="192.68" y="434.1" font-size="12.0" text-anchor="middle" fill="#000000" >40</text>
<line x1="260.29" y1="417" x2="260.29" y2="421.2" stroke="#262626" stroke-width="1.1"/>
<text x="260.29" y="434.1" font-size="12.0" text-anchor="middle" fill="#000000" >60</text>
<line x1="327.9" y1="417" x2="327.9" y2="421.2" stroke="#262626" stroke-width="1.1"/>
<text x="327.9" y="434.1" font-size="12.0" text-anchor="middle" fill="#000000" >80</text>
<line x1="407.56" y1="417" x2="407.56" y2="421.2" stroke="#262626" stroke-width="1.1"/>
<text x="407.56" y="434.1" font-size="12.0" text-anchor="middle" fill="#000000" >0</text>
<line x1="475.3" y1="417" x2="475.3" y2="421.2" stroke="#262626" stroke-width="1.1"/>
<text x="475.3" y="434.1" font-size="12.0" text-anchor="middle" fill="#000000" >20</text>
<line x1="543.04" y1="417" x2="543.04" y2="421.2" stroke="#262626" stroke-width="1.1"/>
<text x="543.04" y="434.1" font-size="12.0" text-anchor="middle" fill="#000000" >40</text>
<line x1="610.78" y1="417" x2="610.78" y2="421.2" stroke="#262626" stroke-width="1.1"/>
<text x="610.78" y="434.1" font-size="12.0" text-anchor="middle" fill="#000000" >60</text>
<line x1="678.52" y1="417" x2="678.52" y2="421.2" stroke="#262626" stroke-width="1.1"/>
<text x="678.52" y="434.1" font-size="12.0" text-anchor="middle" fill="#000000" >80</text>
<line x1="40.3" y1="195.1" x2="44.5" y2="195.1" stroke="#262626" stroke-width="1.1"/>
<text x="36.1" y="199.56" font-size="12.0" text-anchor="end" fill="#000000" >0.0</text>
<line x1="40.3" y1="164.22" x2="44.5" y2="164.22" stroke="#262626" stroke-width="1.1"/>
<text x="36.1" y="168.69" font-size="12.0" text-anchor="end" fill="#000000" >0.5</text>
<line x1="40.3" y1="133.35" x2="44.5" y2="133.35" stroke="#262626" stroke-width="1.1"/>
<text x="36.1" y="137.81" font-size="12.0" text-anchor="end" fill="#000000" >1.0</text>
<line x1="40.3" y1="102.47" x2="44.5" y2="102.47" stroke="#262626" stroke-width="1.1"/>
<text x="36.1" y="106.94" font-size="12.0" text-anchor="end" fill="#000000" >1.5</text>
<line x1="40.3" y1="71.6" x2="44.5" y2="71.6" stroke="#262626" stroke-width="1.1"/>
<text x="36.1" y="76.06" font-size="12.0" text-anchor="end" fill="#000000" >2.0</text>
<line x1="390.35" y1="195.15" x2="394.55" y2="195.15" stroke="#262626" stroke-width="1.1"/>
<text x="386.15" y="199.61" font-size="12.0" text-anchor="end" fill="#000000" >0</text>
<line x1="390.35" y1="161.73" x2="394.55" y2="161.73" stroke="#262626" stroke-width="1.1"/>
<text x="386.15" y="166.19" font-size="12.0" text-anchor="end" fill="#000000" >5000</text>
<line x1="390.35" y1="128.31" x2="394.55" y2="128.31" stroke="#262626" stroke-width="1.1"/>
<text x="386.15" y="132.77" font-size="12.0" text-anchor="end" fill="#000000" >10000</text>
<line x1="390.35" y1="94.89" x2="394.55" y2="94.89" stroke="#262626" stroke-width="1.1"/>
<text x="386.15" y="99.35" font-size="12.0" text-anchor="end" fill="#000000" >15000</text>
<line x1="390.35" y1="61.47" x2="394.55" y2="61.47" stroke="#262626" stroke-width="1.1"/>
<text x="386.15" y="65.93" font-size="12.0" text-anchor="end" fill="#000000" >20000</text>
<line x1="40.3" y1="403.4" x2="44.5" y2="403.4" stroke="#262626" stroke-width="1.1"/>
<text x="36.1" y="407.86" font-size="12.0" text-anchor="end" fill="#000000" >0.0</text>
<line x1="40.3" y1="375.59" x2="44.5" y2="375.59" stroke="#262626" stroke-width="1.1"/>
<text x="36.1" y="380.05" font-size="12.0" text-anchor="end" fill="#000000" >0.2</text>
<line x1="40.3" y1="347.78" x2="44.5" y2="347.78" stroke="#262626" stroke-width="1.1"/>
<text x="36.1" y="352.24" font-size="12.0" text-anchor="end" fill="#000000" >0.4</text>
<line x1="40.3" y1="319.97" x2="44.5" y2="319.97" stroke="#262626" stroke-width="1.1"/>
<text x="36.1" y="324.43" font-size="12.0" text-anchor="end" fill="#000000" >0.6</text>
<line x1="40.3" y1="292.16" x2="44.5" y2="292.16" stroke="#262626" stroke-width="1.1"/>
<text x="36.1" y="296.62" font-size="12.0" text-anchor="end" fill="#000000" >0.8</text>
<line x1="40.3" y1="264.35" x2="44.5" y2="264.35" stroke="#262626" stroke-width="1.1"/>
<text x="36.1" y="268.81" font-size="12.0" text-anchor="end" fill="#000000" >1.0</text>
<line x1="390.35" y1="403.4" x2="394.55" y2="403.4" stroke="#262626" stroke-width="1.1"/>
<text x="386.15" y="407.86" font-size="12.0" text-anchor="end" fill="#000000" >0.0</text>
<line x1="390.35" y1="375.59" x2="394.55" y2="375.59" stroke="#262626" stroke-width="1.1"/>
<text x="386.15" y="380.05" font-size="12.0" text-anchor="end" fill="#000000" >0.2</text>
<line x1="390.35" y1="347.78" x2="394.55" y2="347.78" stroke="#262626" stroke-width="1.1"/>
<text x="386.15" y="352.24" font-size="12.0" text-anchor="end" fill="#000000" >0.4</text>
<line x1="390.35" y1="319.97" x2="394.55" y2="319.97" stroke="#262626" stroke-width="1.1"/>
<text x="386.15" y="324.43" font-size="12.0" text-anchor="end" fill="#000000" >0.6</text>
<line x1="390.35" y1="292.16" x2="394.55" y2="292.16" stroke="#262626" stroke-width="1.1"/>
<text x="386.15" y="296.62" font-size="12.0" text-anchor="end" fill="#000000" >0.8</text>
<line x1="390.35" y1="264.35" x2="394.55" y2="264.35" stroke="#262626" stroke-width="1.1"/>
<text x="386.15" y="268.81" font-size="12.0" text-anchor="end" fill="#000000" >1.0</text>
<text x="44.6" y="39.3" font-size="12.0" text-anchor="start" fill="#000000" >1e9</text>
<text x="187.5" y="241.4" font-size="11.9" text-anchor="middle" fill="#000000" >Time (days)</text>
<text x="538.2" y="241.4" font-size="11.9" text-anchor="middle" fill="#000000" >Time (days)</text>
<text x="187.5" y="450" font-size="11.9" text-anchor="middle" fill="#000000" >Time (days)</text>
<text x="538.2" y="450" font-size="11.9" text-anchor="middle" fill="#000000" >Time (days)</text>
<text transform="translate(14,125.4) rotate(-90)" font-size="11.7" text-anchor="middle" fill="#000000" >Cell Count</text>
<text transform="translate(351.5,128.5) rotate(-90)" font-size="12.0" text-anchor="middle" fill="#000000" >Volume (mm<tspan font-size="8" dy="-5">3</tspan><tspan dy="5">)</tspan></text>
<text transform="translate(15,332) rotate(-90)" font-size="12.8" text-anchor="middle" fill="#000000" >Adriamycin (NU)</text>
<text transform="translate(365.5,331) rotate(-90)" font-size="13.4" text-anchor="middle" fill="#000000" >Cyclophosphamide (NU)</text>
<path d="M154,562.9 L154,548.59 L157.24,548.59 L157.24,544.42 L160.48,544.42 L160.48,530.06 L163.73,530.06 L163.73,534.08 L166.97,534.08 L166.97,532.07 L170.21,532.07 L170.21,514.61 L173.45,514.61 L173.45,513.27 L176.7,513.27 L176.7,493.13 L179.94,493.13 L179.94,497.83 L183.18,497.83 L183.18,481.98 L186.43,481.98 L186.43,507.23 L189.67,507.23 L189.67,519.98 L192.91,519.98 L192.91,532.74 L196.15,532.74 L196.15,522.94 L199.4,522.94 L199.4,542.81 L202.64,542.81 L202.64,536.1 L205.88,536.1 L205.88,542.81 L209.13,542.81 L209.13,549.8 L212.37,549.8 L212.37,547.51 L215.61,547.51 L215.61,554.23 L218.86,554.23 L218.86,562.9 Z" fill="#0000ff"/>
<line x1="157.24" y1="548.59" x2="157.24" y2="562.9" stroke="#ffffff" stroke-opacity="0.12" stroke-width="0.5"/>
<line x1="160.48" y1="544.42" x2="160.48" y2="562.9" stroke="#ffffff" stroke-opacity="0.12" stroke-width="0.5"/>
<line x1="163.73" y1="534.08" x2="163.73" y2="562.9" stroke="#ffffff" stroke-opacity="0.12" stroke-width="0.5"/>
<line x1="166.97" y1="534.08" x2="166.97" y2="562.9" stroke="#ffffff" stroke-opacity="0.12" stroke-width="0.5"/>
<line x1="170.21" y1="532.07" x2="170.21" y2="562.9" stroke="#ffffff" stroke-opacity="0.12" stroke-width="0.5"/>
<line x1="173.45" y1="514.61" x2="173.45" y2="562.9" stroke="#ffffff" stroke-opacity="0.12" stroke-width="0.5"/>
<line x1="176.7" y1="513.27" x2="176.7" y2="562.9" stroke="#ffffff" stroke-opacity="0.12" stroke-width="0.5"/>
<line x1="179.94" y1="497.83" x2="179.94" y2="562.9" stroke="#ffffff" stroke-opacity="0.12" stroke-width="0.5"/>
<line x1="183.18" y1="497.83" x2="183.18" y2="562.9" stroke="#ffffff" stroke-opacity="0.12" stroke-width="0.5"/>
<line x1="186.43" y1="507.23" x2="186.43" y2="562.9" stroke="#ffffff" stroke-opacity="0.12" stroke-width="0.5"/>
<line x1="189.67" y1="519.98" x2="189.67" y2="562.9" stroke="#ffffff" stroke-opacity="0.12" stroke-width="0.5"/>
<line x1="192.91" y1="532.74" x2="192.91" y2="562.9" stroke="#ffffff" stroke-opacity="0.12" stroke-width="0.5"/>
<line x1="196.15" y1="532.74" x2="196.15" y2="562.9" stroke="#ffffff" stroke-opacity="0.12" stroke-width="0.5"/>
<line x1="199.4" y1="542.81" x2="199.4" y2="562.9" stroke="#ffffff" stroke-opacity="0.12" stroke-width="0.5"/>
<line x1="202.64" y1="542.81" x2="202.64" y2="562.9" stroke="#ffffff" stroke-opacity="0.12" stroke-width="0.5"/>
<line x1="205.88" y1="542.81" x2="205.88" y2="562.9" stroke="#ffffff" stroke-opacity="0.12" stroke-width="0.5"/>
<line x1="209.13" y1="549.8" x2="209.13" y2="562.9" stroke="#ffffff" stroke-opacity="0.12" stroke-width="0.5"/>
<line x1="212.37" y1="549.8" x2="212.37" y2="562.9" stroke="#ffffff" stroke-opacity="0.12" stroke-width="0.5"/>
<line x1="215.61" y1="554.23" x2="215.61" y2="562.9" stroke="#ffffff" stroke-opacity="0.12" stroke-width="0.5"/>
<path d="M153.5,555.15 L154.34,554.34 L155.18,553.48 L156.02,552.55 L156.86,551.56 L157.7,550.5 L158.55,549.38 L159.39,548.2 L160.23,546.95 L161.07,545.64 L161.91,544.27 L162.75,542.85 L163.59,541.36 L164.43,539.83 L165.27,538.25 L166.11,536.62 L166.95,534.96 L167.79,533.27 L168.64,531.55 L169.48,529.82 L170.32,528.08 L171.16,526.34 L172,524.61 L172.84,522.9 L173.68,521.22 L174.52,519.58 L175.36,517.98 L176.2,516.44 L177.04,514.97 L177.89,513.58 L178.73,512.27 L179.57,511.06 L180.41,509.96 L181.25,508.96 L182.09,508.09 L182.93,507.34 L183.77,506.72 L184.61,506.24 L185.45,505.9 L186.29,505.7 L187.13,505.64 L187.98,505.73 L188.82,505.96 L189.66,506.33 L190.5,506.84 L191.34,507.48 L192.18,508.26 L193.02,509.15 L193.86,510.17 L194.7,511.3 L195.54,512.53 L196.38,513.85 L197.23,515.26 L198.07,516.75 L198.91,518.3 L199.75,519.9 L200.59,521.56 L201.43,523.25 L202.27,524.96 L203.11,526.69 L203.95,528.43 L204.79,530.17 L205.63,531.9 L206.48,533.61 L207.32,535.3 L208.16,536.95 L209,538.57 L209.84,540.14 L210.68,541.67 L211.52,543.14 L212.36,544.56 L213.2,545.91 L214.04,547.21 L214.88,548.44 L215.72,549.61 L216.57,550.72 L217.41,551.76 L218.25,552.74 L219.09,553.66 L219.93,554.51" fill="none" stroke="#ff0000" stroke-width="1.85" stroke-dasharray="6.4 3.0"/>
<path d="M265.18,562.9 L265.18,553.33 L268.48,553.33 L268.48,555.24 L271.78,555.24 L271.78,549.51 L275.08,549.51 L275.08,536.14 L278.38,536.14 L278.38,536.14 L281.68,536.14 L281.68,526.2 L284.98,526.2 L284.98,505.19 L288.28,505.19 L288.28,522.38 L291.58,522.38 L291.58,495.38 L294.87,495.38 L294.87,482.01 L298.17,482.01 L298.17,501.11 L301.47,501.11 L301.47,499.2 L304.77,499.2 L304.77,497.29 L308.07,497.29 L308.07,487.74 L311.37,487.74 L311.37,493.47 L314.67,493.47 L314.67,505.19 L317.97,505.19 L317.97,493.47 L321.27,493.47 L321.27,517.03 L324.57,517.03 L324.57,524.04 L327.86,524.04 L327.86,516.4 L331.16,516.4 L331.16,562.9 Z" fill="#0000ff"/>
<line x1="268.48" y1="555.24" x2="268.48" y2="562.9" stroke="#ffffff" stroke-opacity="0.12" stroke-width="0.5"/>
<line x1="271.78" y1="555.24" x2="271.78" y2="562.9" stroke="#ffffff" stroke-opacity="0.12" stroke-width="0.5"/>
<line x1="275.08" y1="549.51" x2="275.08" y2="562.9" stroke="#ffffff" stroke-opacity="0.12" stroke-width="0.5"/>
<line x1="278.38" y1="536.14" x2="278.38" y2="562.9" stroke="#ffffff" stroke-opacity="0.12" stroke-width="0.5"/>
<line x1="281.68" y1="536.14" x2="281.68" y2="562.9" stroke="#ffffff" stroke-opacity="0.12" stroke-width="0.5"/>
<line x1="284.98" y1="526.2" x2="284.98" y2="562.9" stroke="#ffffff" stroke-opacity="0.12" stroke-width="0.5"/>
<line x1="288.28" y1="522.38" x2="288.28" y2="562.9" stroke="#ffffff" stroke-opacity="0.12" stroke-width="0.5"/>
<line x1="291.58" y1="522.38" x2="291.58" y2="562.9" stroke="#ffffff" stroke-opacity="0.12" stroke-width="0.5"/>
<line x1="294.87" y1="495.38" x2="294.87" y2="562.9" stroke="#ffffff" stroke-opacity="0.12" stroke-width="0.5"/>
<line x1="298.17" y1="501.11" x2="298.17" y2="562.9" stroke="#ffffff" stroke-opacity="0.12" stroke-width="0.5"/>
<line x1="301.47" y1="501.11" x2="301.47" y2="562.9" stroke="#ffffff" stroke-opacity="0.12" stroke-width="0.5"/>
<line x1="304.77" y1="499.2" x2="304.77" y2="562.9" stroke="#ffffff" stroke-opacity="0.12" stroke-width="0.5"/>
<line x1="308.07" y1="497.29" x2="308.07" y2="562.9" stroke="#ffffff" stroke-opacity="0.12" stroke-width="0.5"/>
<line x1="311.37" y1="493.47" x2="311.37" y2="562.9" stroke="#ffffff" stroke-opacity="0.12" stroke-width="0.5"/>
<line x1="314.67" y1="505.19" x2="314.67" y2="562.9" stroke="#ffffff" stroke-opacity="0.12" stroke-width="0.5"/>
<line x1="317.97" y1="505.19" x2="317.97" y2="562.9" stroke="#ffffff" stroke-opacity="0.12" stroke-width="0.5"/>
<line x1="321.27" y1="517.03" x2="321.27" y2="562.9" stroke="#ffffff" stroke-opacity="0.12" stroke-width="0.5"/>
<line x1="324.57" y1="524.04" x2="324.57" y2="562.9" stroke="#ffffff" stroke-opacity="0.12" stroke-width="0.5"/>
<line x1="327.86" y1="524.04" x2="327.86" y2="562.9" stroke="#ffffff" stroke-opacity="0.12" stroke-width="0.5"/>
<path d="M263.9,515.8 L331.3,515.8" fill="none" stroke="#ff0000" stroke-width="1.85" stroke-dasharray="6.4 3.0"/>
<path d="M422.83,562.9 L422.83,558.06 L423.81,558.06 L423.81,551.7 L424.79,551.7 L424.79,539.61 L425.76,539.61 L425.76,531.98 L426.74,531.98 L426.74,519.89 L427.71,519.89 L427.71,516.46 L428.69,516.46 L428.69,514.17 L429.66,514.17 L429.66,498.9 L430.64,498.9 L430.64,487.45 L431.61,487.45 L431.61,482.11 L432.59,482.11 L432.59,488.72 L433.56,488.72 L433.56,502.08 L434.54,502.08 L434.54,562.9 Z" fill="#0000ff"/>
<line x1="423.81" y1="558.06" x2="423.81" y2="562.9" stroke="#ffffff" stroke-opacity="0.12" stroke-width="0.5"/>
<line x1="424.79" y1="551.7" x2="424.79" y2="562.9" stroke="#ffffff" stroke-opacity="0.12" stroke-width="0.5"/>
<line x1="425.76" y1="539.61" x2="425.76" y2="562.9" stroke="#ffffff" stroke-opacity="0.12" stroke-width="0.5"/>
<line x1="426.74" y1="531.98" x2="426.74" y2="562.9" stroke="#ffffff" stroke-opacity="0.12" stroke-width="0.5"/>
<line x1="427.71" y1="519.89" x2="427.71" y2="562.9" stroke="#ffffff" stroke-opacity="0.12" stroke-width="0.5"/>
<line x1="428.69" y1="516.46" x2="428.69" y2="562.9" stroke="#ffffff" stroke-opacity="0.12" stroke-width="0.5"/>
<line x1="429.66" y1="514.17" x2="429.66" y2="562.9" stroke="#ffffff" stroke-opacity="0.12" stroke-width="0.5"/>
<line x1="430.64" y1="498.9" x2="430.64" y2="562.9" stroke="#ffffff" stroke-opacity="0.12" stroke-width="0.5"/>
<line x1="431.61" y1="487.45" x2="431.61" y2="562.9" stroke="#ffffff" stroke-opacity="0.12" stroke-width="0.5"/>
<line x1="432.59" y1="488.72" x2="432.59" y2="562.9" stroke="#ffffff" stroke-opacity="0.12" stroke-width="0.5"/>
<line x1="433.56" y1="502.08" x2="433.56" y2="562.9" stroke="#ffffff" stroke-opacity="0.12" stroke-width="0.5"/>
<path d="M367.1,555.7 L434.2,555.7" fill="none" stroke="#ff0000" stroke-width="1.85" stroke-dasharray="6.4 3.0"/>
<path d="M484.07,562.9 L484.07,558.33 L486.11,558.33 L486.11,556.42 L488.14,556.42 L488.14,551.97 L490.18,551.97 L490.18,530.34 L492.21,530.34 L492.21,505.28 L494.25,505.28 L494.25,505.28 L496.28,505.28 L496.28,487.72 L498.32,487.72 L498.32,482 L500.36,482 L500.36,486.7 L502.39,486.7 L502.39,494.08 L504.43,494.08 L504.43,492.81 L506.46,492.81 L506.46,486.7 L508.5,486.7 L508.5,519.27 L510.53,519.27 L510.53,519.27 L512.57,519.27 L512.57,527.16 L514.61,527.16 L514.61,543.07 L516.64,543.07 L516.64,550.7 L518.68,550.7 L518.68,559.61 L520.71,559.61 L520.71,561.51 L522.75,561.51 L522.75,561.51 L524.78,561.51 L524.78,562.9 Z" fill="#0000ff"/>
<line x1="486.11" y1="558.33" x2="486.11" y2="562.9" stroke="#ffffff" stroke-opacity="0.12" stroke-width="0.5"/>
<line x1="488.14" y1="556.42" x2="488.14" y2="562.9" stroke="#ffffff" stroke-opacity="0.12" stroke-width="0.5"/>
<line x1="490.18" y1="551.97" x2="490.18" y2="562.9" stroke="#ffffff" stroke-opacity="0.12" stroke-width="0.5"/>
<line x1="492.21" y1="530.34" x2="492.21" y2="562.9" stroke="#ffffff" stroke-opacity="0.12" stroke-width="0.5"/>
<line x1="494.25" y1="505.28" x2="494.25" y2="562.9" stroke="#ffffff" stroke-opacity="0.12" stroke-width="0.5"/>
<line x1="496.28" y1="505.28" x2="496.28" y2="562.9" stroke="#ffffff" stroke-opacity="0.12" stroke-width="0.5"/>
<line x1="498.32" y1="487.72" x2="498.32" y2="562.9" stroke="#ffffff" stroke-opacity="0.12" stroke-width="0.5"/>
<line x1="500.36" y1="486.7" x2="500.36" y2="562.9" stroke="#ffffff" stroke-opacity="0.12" stroke-width="0.5"/>
<line x1="502.39" y1="494.08" x2="502.39" y2="562.9" stroke="#ffffff" stroke-opacity="0.12" stroke-width="0.5"/>
<line x1="504.43" y1="494.08" x2="504.43" y2="562.9" stroke="#ffffff" stroke-opacity="0.12" stroke-width="0.5"/>
<line x1="506.46" y1="492.81" x2="506.46" y2="562.9" stroke="#ffffff" stroke-opacity="0.12" stroke-width="0.5"/>
<line x1="508.5" y1="519.27" x2="508.5" y2="562.9" stroke="#ffffff" stroke-opacity="0.12" stroke-width="0.5"/>
<line x1="510.53" y1="519.27" x2="510.53" y2="562.9" stroke="#ffffff" stroke-opacity="0.12" stroke-width="0.5"/>
<line x1="512.57" y1="527.16" x2="512.57" y2="562.9" stroke="#ffffff" stroke-opacity="0.12" stroke-width="0.5"/>
<line x1="514.61" y1="543.07" x2="514.61" y2="562.9" stroke="#ffffff" stroke-opacity="0.12" stroke-width="0.5"/>
<line x1="516.64" y1="550.7" x2="516.64" y2="562.9" stroke="#ffffff" stroke-opacity="0.12" stroke-width="0.5"/>
<line x1="518.68" y1="559.61" x2="518.68" y2="562.9" stroke="#ffffff" stroke-opacity="0.12" stroke-width="0.5"/>
<line x1="520.71" y1="561.51" x2="520.71" y2="562.9" stroke="#ffffff" stroke-opacity="0.12" stroke-width="0.5"/>
<line x1="522.75" y1="561.51" x2="522.75" y2="562.9" stroke="#ffffff" stroke-opacity="0.12" stroke-width="0.5"/>
<path d="M471.2,539.1 L539.1,539.1" fill="none" stroke="#ff0000" stroke-width="1.85" stroke-dasharray="6.4 3.0"/>
<path d="M169.11,689.1 L169.11,685.94 L170.48,685.94 L170.48,681.38 L171.85,681.38 L171.85,673.57 L173.22,673.57 L173.22,673.57 L174.58,673.57 L174.58,673.57 L175.95,673.57 L175.95,651.43 L177.32,651.43 L177.32,626.04 L178.68,626.04 L178.68,618.23 L180.05,618.23 L180.05,608.46 L181.42,608.46 L181.42,613.02 L182.79,613.02 L182.79,619.53 L184.15,619.53 L184.15,619.53 L185.52,619.53 L185.52,641.67 L186.89,641.67 L186.89,641.67 L188.26,641.67 L188.26,633.85 L189.62,633.85 L189.62,649.48 L190.99,649.48 L190.99,674.22 L192.36,674.22 L192.36,663.8 L193.72,663.8 L193.72,674.22 L195.09,674.22 L195.09,680.08 L196.46,680.08 L196.46,689.1 Z" fill="#0000ff"/>
<line x1="170.48" y1="685.94" x2="170.48" y2="689.1" stroke="#ffffff" stroke-opacity="0.12" stroke-width="0.5"/>
<line x1="171.85" y1="681.38" x2="171.85" y2="689.1" stroke="#ffffff" stroke-opacity="0.12" stroke-width="0.5"/>
<line x1="173.22" y1="673.57" x2="173.22" y2="689.1" stroke="#ffffff" stroke-opacity="0.12" stroke-width="0.5"/>
<line x1="174.58" y1="673.57" x2="174.58" y2="689.1" stroke="#ffffff" stroke-opacity="0.12" stroke-width="0.5"/>
<line x1="175.95" y1="673.57" x2="175.95" y2="689.1" stroke="#ffffff" stroke-opacity="0.12" stroke-width="0.5"/>
<line x1="177.32" y1="651.43" x2="177.32" y2="689.1" stroke="#ffffff" stroke-opacity="0.12" stroke-width="0.5"/>
<line x1="178.68" y1="626.04" x2="178.68" y2="689.1" stroke="#ffffff" stroke-opacity="0.12" stroke-width="0.5"/>
<line x1="180.05" y1="618.23" x2="180.05" y2="689.1" stroke="#ffffff" stroke-opacity="0.12" stroke-width="0.5"/>
<line x1="181.42" y1="613.02" x2="181.42" y2="689.1" stroke="#ffffff" stroke-opacity="0.12" stroke-width="0.5"/>
<line x1="182.79" y1="619.53" x2="182.79" y2="689.1" stroke="#ffffff" stroke-opacity="0.12" stroke-width="0.5"/>
<line x1="184.15" y1="619.53" x2="184.15" y2="689.1" stroke="#ffffff" stroke-opacity="0.12" stroke-width="0.5"/>
<line x1="185.52" y1="641.67" x2="185.52" y2="689.1" stroke="#ffffff" stroke-opacity="0.12" stroke-width="0.5"/>
<line x1="186.89" y1="641.67" x2="186.89" y2="689.1" stroke="#ffffff" stroke-opacity="0.12" stroke-width="0.5"/>
<line x1="188.26" y1="641.67" x2="188.26" y2="689.1" stroke="#ffffff" stroke-opacity="0.12" stroke-width="0.5"/>
<line x1="189.62" y1="649.48" x2="189.62" y2="689.1" stroke="#ffffff" stroke-opacity="0.12" stroke-width="0.5"/>
<line x1="190.99" y1="674.22" x2="190.99" y2="689.1" stroke="#ffffff" stroke-opacity="0.12" stroke-width="0.5"/>
<line x1="192.36" y1="674.22" x2="192.36" y2="689.1" stroke="#ffffff" stroke-opacity="0.12" stroke-width="0.5"/>
<line x1="193.72" y1="674.22" x2="193.72" y2="689.1" stroke="#ffffff" stroke-opacity="0.12" stroke-width="0.5"/>
<line x1="195.09" y1="680.08" x2="195.09" y2="689.1" stroke="#ffffff" stroke-opacity="0.12" stroke-width="0.5"/>
<path d="M152.4,673.1 L221,673.1" fill="none" stroke="#ff0000" stroke-width="1.85" stroke-dasharray="6.4 3.0"/>
<path d="M273.97,689.1 L273.97,670.62 L276.72,670.62 L276.72,645.26 L279.47,645.26 L279.47,633.55 L282.22,633.55 L282.22,608.06 L284.97,608.06 L284.97,616.65 L287.72,616.65 L287.72,613.01 L290.47,613.01 L290.47,611.44 L293.22,611.44 L293.22,627.96 L295.97,627.96 L295.97,626.66 L298.72,626.66 L298.72,627.96 L301.47,627.96 L301.47,628.35 L304.22,628.35 L304.22,643.57 L306.97,643.57 L306.97,645.26 L309.72,645.26 L309.72,652.02 L312.47,652.02 L312.47,663.73 L315.23,663.73 L315.23,682.59 L317.98,682.59 L317.98,680.89 L320.73,680.89 L320.73,685.84 L323.48,685.84 L323.48,687.14 L326.23,687.14 L326.23,687.79 L328.98,687.79 L328.98,689.1 Z" fill="#0000ff"/>
<line x1="276.72" y1="670.62" x2="276.72" y2="689.1" stroke="#ffffff" stroke-opacity="0.12" stroke-width="0.5"/>
<line x1="279.47" y1="645.26" x2="279.47" y2="689.1" stroke="#ffffff" stroke-opacity="0.12" stroke-width="0.5"/>
<line x1="282.22" y1="633.55" x2="282.22" y2="689.1" stroke="#ffffff" stroke-opacity="0.12" stroke-width="0.5"/>
<line x1="284.97" y1="616.65" x2="284.97" y2="689.1" stroke="#ffffff" stroke-opacity="0.12" stroke-width="0.5"/>
<line x1="287.72" y1="616.65" x2="287.72" y2="689.1" stroke="#ffffff" stroke-opacity="0.12" stroke-width="0.5"/>
<line x1="290.47" y1="613.01" x2="290.47" y2="689.1" stroke="#ffffff" stroke-opacity="0.12" stroke-width="0.5"/>
<line x1="293.22" y1="627.96" x2="293.22" y2="689.1" stroke="#ffffff" stroke-opacity="0.12" stroke-width="0.5"/>
<line x1="295.97" y1="627.96" x2="295.97" y2="689.1" stroke="#ffffff" stroke-opacity="0.12" stroke-width="0.5"/>
<line x1="298.72" y1="627.96" x2="298.72" y2="689.1" stroke="#ffffff" stroke-opacity="0.12" stroke-width="0.5"/>
<line x1="301.47" y1="628.35" x2="301.47" y2="689.1" stroke="#ffffff" stroke-opacity="0.12" stroke-width="0.5"/>
<line x1="304.22" y1="643.57" x2="304.22" y2="689.1" stroke="#ffffff" stroke-opacity="0.12" stroke-width="0.5"/>
<line x1="306.97" y1="645.26" x2="306.97" y2="689.1" stroke="#ffffff" stroke-opacity="0.12" stroke-width="0.5"/>
<line x1="309.72" y1="652.02" x2="309.72" y2="689.1" stroke="#ffffff" stroke-opacity="0.12" stroke-width="0.5"/>
<line x1="312.47" y1="663.73" x2="312.47" y2="689.1" stroke="#ffffff" stroke-opacity="0.12" stroke-width="0.5"/>
<line x1="315.23" y1="682.59" x2="315.23" y2="689.1" stroke="#ffffff" stroke-opacity="0.12" stroke-width="0.5"/>
<line x1="317.98" y1="682.59" x2="317.98" y2="689.1" stroke="#ffffff" stroke-opacity="0.12" stroke-width="0.5"/>
<line x1="320.73" y1="685.84" x2="320.73" y2="689.1" stroke="#ffffff" stroke-opacity="0.12" stroke-width="0.5"/>
<line x1="323.48" y1="687.14" x2="323.48" y2="689.1" stroke="#ffffff" stroke-opacity="0.12" stroke-width="0.5"/>
<line x1="326.23" y1="687.79" x2="326.23" y2="689.1" stroke="#ffffff" stroke-opacity="0.12" stroke-width="0.5"/>
<path d="M264.3,654 L332.2,654" fill="none" stroke="#ff0000" stroke-width="1.85" stroke-dasharray="6.4 3.0"/>
<path d="M371.8,689.1 L371.8,686.88 L374.6,686.88 L374.6,688.18 L377.4,688.18 L377.4,687.79 L380.19,687.79 L380.19,681.28 L382.99,681.28 L382.99,681.28 L385.78,681.28 L385.78,666.98 L388.58,666.98 L388.58,653.97 L391.38,653.97 L391.38,644.22 L394.17,644.22 L394.17,624.71 L396.97,624.71 L396.97,608.45 L399.77,608.45 L399.77,609.36 L402.56,609.36 L402.56,627.96 L405.36,627.96 L405.36,637.72 L408.15,637.72 L408.15,650.72 L410.95,650.72 L410.95,665.68 L413.75,665.68 L413.75,659.18 L416.54,659.18 L416.54,671.27 L419.34,671.27 L419.34,678.03 L422.13,678.03 L422.13,682.98 L424.93,682.98 L424.93,685.84 L427.73,685.84 L427.73,689.1 Z" fill="#0000ff"/>
<line x1="374.6" y1="688.18" x2="374.6" y2="689.1" stroke="#ffffff" stroke-opacity="0.12" stroke-width="0.5"/>
<line x1="377.4" y1="688.18" x2="377.4" y2="689.1" stroke="#ffffff" stroke-opacity="0.12" stroke-width="0.5"/>
<line x1="380.19" y1="687.79" x2="380.19" y2="689.1" stroke="#ffffff" stroke-opacity="0.12" stroke-width="0.5"/>
<line x1="382.99" y1="681.28" x2="382.99" y2="689.1" stroke="#ffffff" stroke-opacity="0.12" stroke-width="0.5"/>
<line x1="385.78" y1="681.28" x2="385.78" y2="689.1" stroke="#ffffff" stroke-opacity="0.12" stroke-width="0.5"/>
<line x1="388.58" y1="666.98" x2="388.58" y2="689.1" stroke="#ffffff" stroke-opacity="0.12" stroke-width="0.5"/>
<line x1="391.38" y1="653.97" x2="391.38" y2="689.1" stroke="#ffffff" stroke-opacity="0.12" stroke-width="0.5"/>
<line x1="394.17" y1="644.22" x2="394.17" y2="689.1" stroke="#ffffff" stroke-opacity="0.12" stroke-width="0.5"/>
<line x1="396.97" y1="624.71" x2="396.97" y2="689.1" stroke="#ffffff" stroke-opacity="0.12" stroke-width="0.5"/>
<line x1="399.77" y1="609.36" x2="399.77" y2="689.1" stroke="#ffffff" stroke-opacity="0.12" stroke-width="0.5"/>
<line x1="402.56" y1="627.96" x2="402.56" y2="689.1" stroke="#ffffff" stroke-opacity="0.12" stroke-width="0.5"/>
<line x1="405.36" y1="637.72" x2="405.36" y2="689.1" stroke="#ffffff" stroke-opacity="0.12" stroke-width="0.5"/>
<line x1="408.15" y1="650.72" x2="408.15" y2="689.1" stroke="#ffffff" stroke-opacity="0.12" stroke-width="0.5"/>
<line x1="410.95" y1="665.68" x2="410.95" y2="689.1" stroke="#ffffff" stroke-opacity="0.12" stroke-width="0.5"/>
<line x1="413.75" y1="665.68" x2="413.75" y2="689.1" stroke="#ffffff" stroke-opacity="0.12" stroke-width="0.5"/>
<line x1="416.54" y1="671.27" x2="416.54" y2="689.1" stroke="#ffffff" stroke-opacity="0.12" stroke-width="0.5"/>
<line x1="419.34" y1="678.03" x2="419.34" y2="689.1" stroke="#ffffff" stroke-opacity="0.12" stroke-width="0.5"/>
<line x1="422.13" y1="682.98" x2="422.13" y2="689.1" stroke="#ffffff" stroke-opacity="0.12" stroke-width="0.5"/>
<line x1="424.93" y1="685.84" x2="424.93" y2="689.1" stroke="#ffffff" stroke-opacity="0.12" stroke-width="0.5"/>
<path d="M366.41,689.09 L367.26,689.08 L368.12,689.07 L368.97,689.06 L369.83,689.04 L370.68,689.01 L371.54,688.96 L372.4,688.9 L373.25,688.81 L374.11,688.7 L374.96,688.53 L375.82,688.32 L376.67,688.03 L377.53,687.65 L378.38,687.16 L379.24,686.53 L380.09,685.74 L380.95,684.74 L381.8,683.52 L382.66,682.03 L383.51,680.24 L384.37,678.13 L385.22,675.66 L386.08,672.81 L386.93,669.57 L387.79,665.95 L388.65,661.96 L389.5,657.64 L390.36,653.02 L391.21,648.18 L392.07,643.2 L392.92,638.18 L393.78,633.24 L394.63,628.49 L395.49,624.06 L396.34,620.07 L397.2,616.64 L398.05,613.88 L398.91,611.87 L399.76,610.68 L400.62,610.35 L401.47,610.88 L402.33,612.27 L403.19,614.46 L404.04,617.38 L404.9,620.95 L405.75,625.05 L406.61,629.57 L407.46,634.38 L408.32,639.35 L409.17,644.37 L410.03,649.32 L410.88,654.12 L411.74,658.67 L412.59,662.92 L413.45,666.83 L414.3,670.36 L415.16,673.51 L416.01,676.27 L416.87,678.65 L417.73,680.69 L418.58,682.4 L419.44,683.83 L420.29,684.99 L421.15,685.94 L422,686.69 L422.86,687.29 L423.71,687.75 L424.57,688.1 L425.42,688.37 L426.28,688.58 L427.13,688.73 L427.99,688.84 L428.84,688.92 L429.7,688.97 L430.55,689.01 L431.41,689.04 L432.27,689.06 L433.12,689.07 L433.98,689.08" fill="none" stroke="#ff0000" stroke-width="1.85" stroke-dasharray="6.4 3.0"/>
<path d="M482.36,689.1 L482.36,686.88 L484.92,686.88 L484.92,685.19 L487.49,685.19 L487.49,683.24 L490.06,683.24 L490.06,672.83 L492.63,672.83 L492.63,657.22 L495.2,657.22 L495.2,655.92 L497.77,655.92 L497.77,646.17 L500.34,646.17 L500.34,619.51 L502.9,619.51 L502.9,608.45 L505.47,608.45 L505.47,615.61 L508.04,615.61 L508.04,619.51 L510.61,619.51 L510.61,627.96 L513.18,627.96 L513.18,635.12 L515.75,635.12 L515.75,644.22 L518.32,644.22 L518.32,661.13 L520.88,661.13 L520.88,670.88 L523.45,670.88 L523.45,677.77 L526.02,677.77 L526.02,683.89 L528.59,683.89 L528.59,687.14 L531.16,687.14 L531.16,687.4 L533.73,687.4 L533.73,689.1 Z" fill="#0000ff"/>
<line x1="484.92" y1="686.88" x2="484.92" y2="689.1" stroke="#ffffff" stroke-opacity="0.12" stroke-width="0.5"/>
<line x1="487.49" y1="685.19" x2="487.49" y2="689.1" stroke="#ffffff" stroke-opacity="0.12" stroke-width="0.5"/>
<line x1="490.06" y1="683.24" x2="490.06" y2="689.1" stroke="#ffffff" stroke-opacity="0.12" stroke-width="0.5"/>
<line x1="492.63" y1="672.83" x2="492.63" y2="689.1" stroke="#ffffff" stroke-opacity="0.12" stroke-width="0.5"/>
<line x1="495.2" y1="657.22" x2="495.2" y2="689.1" stroke="#ffffff" stroke-opacity="0.12" stroke-width="0.5"/>
<line x1="497.77" y1="655.92" x2="497.77" y2="689.1" stroke="#ffffff" stroke-opacity="0.12" stroke-width="0.5"/>
<line x1="500.34" y1="646.17" x2="500.34" y2="689.1" stroke="#ffffff" stroke-opacity="0.12" stroke-width="0.5"/>
<line x1="502.9" y1="619.51" x2="502.9" y2="689.1" stroke="#ffffff" stroke-opacity="0.12" stroke-width="0.5"/>
<line x1="505.47" y1="615.61" x2="505.47" y2="689.1" stroke="#ffffff" stroke-opacity="0.12" stroke-width="0.5"/>
<line x1="508.04" y1="619.51" x2="508.04" y2="689.1" stroke="#ffffff" stroke-opacity="0.12" stroke-width="0.5"/>
<line x1="510.61" y1="627.96" x2="510.61" y2="689.1" stroke="#ffffff" stroke-opacity="0.12" stroke-width="0.5"/>
<line x1="513.18" y1="635.12" x2="513.18" y2="689.1" stroke="#ffffff" stroke-opacity="0.12" stroke-width="0.5"/>
<line x1="515.75" y1="644.22" x2="515.75" y2="689.1" stroke="#ffffff" stroke-opacity="0.12" stroke-width="0.5"/>
<line x1="518.32" y1="661.13" x2="518.32" y2="689.1" stroke="#ffffff" stroke-opacity="0.12" stroke-width="0.5"/>
<line x1="520.88" y1="670.88" x2="520.88" y2="689.1" stroke="#ffffff" stroke-opacity="0.12" stroke-width="0.5"/>
<line x1="523.45" y1="677.77" x2="523.45" y2="689.1" stroke="#ffffff" stroke-opacity="0.12" stroke-width="0.5"/>
<line x1="526.02" y1="683.89" x2="526.02" y2="689.1" stroke="#ffffff" stroke-opacity="0.12" stroke-width="0.5"/>
<line x1="528.59" y1="687.14" x2="528.59" y2="689.1" stroke="#ffffff" stroke-opacity="0.12" stroke-width="0.5"/>
<line x1="531.16" y1="687.4" x2="531.16" y2="689.1" stroke="#ffffff" stroke-opacity="0.12" stroke-width="0.5"/>
<path d="M472.66,689.08 L473.54,689.07 L474.41,689.06 L475.29,689.04 L476.16,689.02 L477.04,688.98 L477.91,688.92 L478.78,688.84 L479.66,688.73 L480.53,688.58 L481.41,688.38 L482.28,688.12 L483.16,687.76 L484.03,687.31 L484.91,686.72 L485.78,685.98 L486.66,685.04 L487.53,683.89 L488.41,682.48 L489.28,680.79 L490.16,678.78 L491.03,676.42 L491.91,673.7 L492.78,670.6 L493.66,667.12 L494.53,663.28 L495.41,659.09 L496.28,654.62 L497.16,649.91 L498.03,645.06 L498.91,640.15 L499.78,635.29 L500.66,630.6 L501.53,626.21 L502.41,622.23 L503.28,618.79 L504.16,615.99 L505.03,613.91 L505.91,612.63 L506.78,612.19 L507.66,612.59 L508.53,613.84 L509.41,615.88 L510.28,618.66 L511.16,622.08 L512.03,626.03 L512.91,630.41 L513.78,635.09 L514.65,639.94 L515.53,644.85 L516.4,649.71 L517.28,654.42 L518.15,658.91 L519.03,663.11 L519.9,666.97 L520.78,670.46 L521.65,673.58 L522.53,676.32 L523.4,678.69 L524.28,680.71 L525.15,682.42 L526.03,683.84 L526.9,685 L527.78,685.94 L528.65,686.69 L529.53,687.29 L530.4,687.75 L531.28,688.1 L532.15,688.37 L533.03,688.58 L533.9,688.73 L534.78,688.84 L535.65,688.92 L536.53,688.97 L537.4,689.01 L538.28,689.04 L539.15,689.06 L540.03,689.07 L540.9,689.08 L541.78,689.09" fill="none" stroke="#ff0000" stroke-width="1.85" stroke-dasharray="6.4 3.0"/>
<rect x="150" y="477.8" width="74" height="85.1" fill="none" stroke="#262626" stroke-width="1.1"/>
<rect x="260.5" y="477.8" width="73.9" height="85.1" fill="none" stroke="#262626" stroke-width="1.1"/>
<rect x="363.8" y="477.8" width="73.8" height="85.1" fill="none" stroke="#262626" stroke-width="1.1"/>
<rect x="468.4" y="477.8" width="73.9" height="85.1" fill="none" stroke="#262626" stroke-width="1.1"/>
<rect x="149.4" y="604.1" width="73.9" height="85" fill="none" stroke="#262626" stroke-width="1.1"/>
<rect x="261" y="604.1" width="74" height="85" fill="none" stroke="#262626" stroke-width="1.1"/>
<rect x="363.3" y="604.1" width="74.1" height="85" fill="none" stroke="#262626" stroke-width="1.1"/>
<rect x="469.5" y="604.1" width="74.1" height="85" fill="none" stroke="#262626" stroke-width="1.1"/>
<line x1="145.8" y1="562.9" x2="150" y2="562.9" stroke="#262626" stroke-width="1.1"/>
<text x="141.6" y="567.36" font-size="12.0" text-anchor="end" fill="#000000" >0</text>
<line x1="145.8" y1="528.35" x2="150" y2="528.35" stroke="#262626" stroke-width="1.1"/>
<text x="141.6" y="532.81" font-size="12.0" text-anchor="end" fill="#000000" >1000</text>
<line x1="145.8" y1="494.1" x2="150" y2="494.1" stroke="#262626" stroke-width="1.1"/>
<text x="141.6" y="498.56" font-size="12.0" text-anchor="end" fill="#000000" >2000</text>
<line x1="153.5" y1="562.9" x2="153.5" y2="567.1" stroke="#262626" stroke-width="1.1"/>
<text x="153.5" y="580" font-size="12.0" text-anchor="middle" fill="#000000" >0.000</text>
<line x1="220.6" y1="562.9" x2="220.6" y2="567.1" stroke="#262626" stroke-width="1.1"/>
<text x="220.6" y="580" font-size="12.0" text-anchor="middle" fill="#000000" >0.001</text>
<line x1="256.3" y1="562.9" x2="260.5" y2="562.9" stroke="#262626" stroke-width="1.1"/>
<text x="252.1" y="567.36" font-size="12.0" text-anchor="end" fill="#000000" >0.0</text>
<line x1="256.3" y1="518.1" x2="260.5" y2="518.1" stroke="#262626" stroke-width="1.1"/>
<text x="252.1" y="522.56" font-size="12.0" text-anchor="end" fill="#000000" >0.2</text>
<line x1="295.7" y1="562.9" x2="295.7" y2="567.1" stroke="#262626" stroke-width="1.1"/>
<text x="295.7" y="580" font-size="12.0" text-anchor="middle" fill="#000000" >−2.5</text>
<line x1="331.1" y1="562.9" x2="331.1" y2="567.1" stroke="#262626" stroke-width="1.1"/>
<text x="331.1" y="580" font-size="12.0" text-anchor="middle" fill="#000000" >0.0</text>
<line x1="359.6" y1="562.9" x2="363.8" y2="562.9" stroke="#262626" stroke-width="1.1"/>
<text x="355.4" y="567.36" font-size="12.0" text-anchor="end" fill="#000000" >0</text>
<line x1="359.6" y1="531.9" x2="363.8" y2="531.9" stroke="#262626" stroke-width="1.1"/>
<text x="355.4" y="536.36" font-size="12.0" text-anchor="end" fill="#000000" >1</text>
<line x1="359.6" y1="501.2" x2="363.8" y2="501.2" stroke="#262626" stroke-width="1.1"/>
<text x="355.4" y="505.66" font-size="12.0" text-anchor="end" fill="#000000" >2</text>
<line x1="369.6" y1="562.9" x2="369.6" y2="567.1" stroke="#262626" stroke-width="1.1"/>
<text x="369.6" y="580" font-size="12.0" text-anchor="middle" fill="#000000" >−2</text>
<line x1="401.5" y1="562.9" x2="401.5" y2="567.1" stroke="#262626" stroke-width="1.1"/>
<text x="401.5" y="580" font-size="12.0" text-anchor="middle" fill="#000000" >0</text>
<line x1="433.3" y1="562.9" x2="433.3" y2="567.1" stroke="#262626" stroke-width="1.1"/>
<text x="433.3" y="580" font-size="12.0" text-anchor="middle" fill="#000000" >2</text>
<line x1="464.2" y1="562.9" x2="468.4" y2="562.9" stroke="#262626" stroke-width="1.1"/>
<text x="460" y="567.36" font-size="12.0" text-anchor="end" fill="#000000" >0.0</text>
<line x1="464.2" y1="517.4" x2="468.4" y2="517.4" stroke="#262626" stroke-width="1.1"/>
<text x="460" y="521.86" font-size="12.0" text-anchor="end" fill="#000000" >0.5</text>
<line x1="469.9" y1="562.9" x2="469.9" y2="567.1" stroke="#262626" stroke-width="1.1"/>
<text x="469.9" y="580" font-size="12.0" text-anchor="middle" fill="#000000" >−2</text>
<line x1="504.4" y1="562.9" x2="504.4" y2="567.1" stroke="#262626" stroke-width="1.1"/>
<text x="504.4" y="580" font-size="12.0" text-anchor="middle" fill="#000000" >0</text>
<line x1="539" y1="562.9" x2="539" y2="567.1" stroke="#262626" stroke-width="1.1"/>
<text x="539" y="580" font-size="12.0" text-anchor="middle" fill="#000000" >2</text>
<line x1="145.2" y1="689.1" x2="149.4" y2="689.1" stroke="#262626" stroke-width="1.1"/>
<text x="141" y="693.56" font-size="12.0" text-anchor="end" fill="#000000" >0.0</text>
<line x1="145.2" y1="657.5" x2="149.4" y2="657.5" stroke="#262626" stroke-width="1.1"/>
<text x="141" y="661.96" font-size="12.0" text-anchor="end" fill="#000000" >0.5</text>
<line x1="145.2" y1="626.2" x2="149.4" y2="626.2" stroke="#262626" stroke-width="1.1"/>
<text x="141" y="630.66" font-size="12.0" text-anchor="end" fill="#000000" >1.0</text>
<line x1="153.9" y1="689.1" x2="153.9" y2="693.3" stroke="#262626" stroke-width="1.1"/>
<text x="153.9" y="706.2" font-size="12.0" text-anchor="middle" fill="#000000" >−2</text>
<line x1="188.3" y1="689.1" x2="188.3" y2="693.3" stroke="#262626" stroke-width="1.1"/>
<text x="188.3" y="706.2" font-size="12.0" text-anchor="middle" fill="#000000" >0</text>
<line x1="222.6" y1="689.1" x2="222.6" y2="693.3" stroke="#262626" stroke-width="1.1"/>
<text x="222.6" y="706.2" font-size="12.0" text-anchor="middle" fill="#000000" >2</text>
<line x1="256.8" y1="689.1" x2="261" y2="689.1" stroke="#262626" stroke-width="1.1"/>
<text x="252.6" y="693.56" font-size="12.0" text-anchor="end" fill="#000000" >0</text>
<line x1="256.8" y1="633.4" x2="261" y2="633.4" stroke="#262626" stroke-width="1.1"/>
<text x="252.6" y="637.86" font-size="12.0" text-anchor="end" fill="#000000" >2</text>
<line x1="264.5" y1="689.1" x2="264.5" y2="693.3" stroke="#262626" stroke-width="1.1"/>
<text x="264.5" y="706.2" font-size="12.0" text-anchor="middle" fill="#000000" >0.0</text>
<line x1="306.5" y1="689.1" x2="306.5" y2="693.3" stroke="#262626" stroke-width="1.1"/>
<text x="306.5" y="706.2" font-size="12.0" text-anchor="middle" fill="#000000" >0.5</text>
<line x1="359.1" y1="689.1" x2="363.3" y2="689.1" stroke="#262626" stroke-width="1.1"/>
<text x="354.9" y="693.56" font-size="12.0" text-anchor="end" fill="#000000" >0.0</text>
<line x1="359.1" y1="658.2" x2="363.3" y2="658.2" stroke="#262626" stroke-width="1.1"/>
<text x="354.9" y="662.66" font-size="12.0" text-anchor="end" fill="#000000" >2.5</text>
<line x1="359.1" y1="627.6" x2="363.3" y2="627.6" stroke="#262626" stroke-width="1.1"/>
<text x="354.9" y="632.06" font-size="12.0" text-anchor="end" fill="#000000" >5.0</text>
<line x1="387.5" y1="689.1" x2="387.5" y2="693.3" stroke="#262626" stroke-width="1.1"/>
<text x="387.5" y="706.2" font-size="12.0" text-anchor="middle" fill="#000000" >0.50</text>
<line x1="420.3" y1="689.1" x2="420.3" y2="693.3" stroke="#262626" stroke-width="1.1"/>
<text x="420.3" y="706.2" font-size="12.0" text-anchor="middle" fill="#000000" >0.75</text>
<line x1="465.3" y1="689.1" x2="469.5" y2="689.1" stroke="#262626" stroke-width="1.1"/>
<text x="461.1" y="693.56" font-size="12.0" text-anchor="end" fill="#000000" >0.0</text>
<line x1="465.3" y1="635.4" x2="469.5" y2="635.4" stroke="#262626" stroke-width="1.1"/>
<text x="461.1" y="639.86" font-size="12.0" text-anchor="end" fill="#000000" >0.5</text>
<line x1="495.4" y1="689.1" x2="495.4" y2="693.3" stroke="#262626" stroke-width="1.1"/>
<text x="495.4" y="706.2" font-size="12.0" text-anchor="middle" fill="#000000" >2.5</text>
<line x1="532.7" y1="689.1" x2="532.7" y2="693.3" stroke="#262626" stroke-width="1.1"/>
<text x="532.7" y="706.2" font-size="12.0" text-anchor="middle" fill="#000000" >5.0</text>
<text x="187.2" y="471.05" font-size="13.6" font-style="italic" text-anchor="middle" fill="#000000">D</text>
<text x="297.6" y="471.05" font-size="13.6" text-anchor="middle" fill="#000000"><tspan font-style="italic">k</tspan><tspan font-size="9.6" dy="2.5"><tspan font-style="italic">r</tspan>, 0</tspan></text>
<text x="400.8" y="471.05" font-size="13.6" text-anchor="middle" fill="#000000"><tspan font-style="italic">k</tspan><tspan font-size="9.6" dy="2.5"><tspan font-style="italic">r</tspan>, 1</tspan></text>
<text x="505.4" y="471.05" font-size="13.6" text-anchor="middle" fill="#000000"><tspan font-style="italic">k</tspan><tspan font-size="9.6" dy="2.5"><tspan font-style="italic">r</tspan>, 2</tspan></text>
<text x="186.4" y="597.35" font-size="13.6" text-anchor="middle" fill="#000000"><tspan font-style="italic">k</tspan><tspan font-size="9.6" dy="2.5"><tspan font-style="italic">r</tspan>, 3</tspan></text>
<text x="298" y="597.35" font-size="13.6" font-style="italic" text-anchor="middle" fill="#000000">α</text>
<text x="400.4" y="597.35" font-size="13.6" text-anchor="middle" fill="#000000"><tspan font-style="italic">β</tspan><tspan font-size="9.6" dy="2.5"><tspan font-style="italic">A</tspan></tspan></text>
<text x="506.6" y="597.35" font-size="13.6" text-anchor="middle" fill="#000000"><tspan font-style="italic">β</tspan><tspan font-size="9.6" dy="2.5"><tspan font-style="italic">C</tspan></tspan></text>
<text transform="translate(110.9,521.2) rotate(-90)" font-size="12.0" text-anchor="middle" fill="#000000" >PDF</text>
<text transform="translate(110.9,652.4) rotate(-90)" font-size="12.0" text-anchor="middle" fill="#000000" >PDF</text>
<rect x="549.4" y="478.0" width="48.8" height="21.6" rx="1.8" fill="#fff" stroke="#d6d6d6" stroke-width="0.8"/>
<rect x="552.4" y="481.0" width="14.0" height="4.9" fill="#0000ff"/>
<line x1="552.3" y1="493.0" x2="558.9" y2="493.0" stroke="#ff0000" stroke-width="1.8"/>
<line x1="562.0" y1="493.0" x2="566.4" y2="493.0" stroke="#ff0000" stroke-width="1.8"/>
<text x="571.9" y="486" font-size="6.9" text-anchor="start" fill="#000000" >Samples</text>
<text x="571.9" y="495.5" font-size="6.9" text-anchor="start" fill="#000000" >Prior</text>
</svg>
</body></html>
